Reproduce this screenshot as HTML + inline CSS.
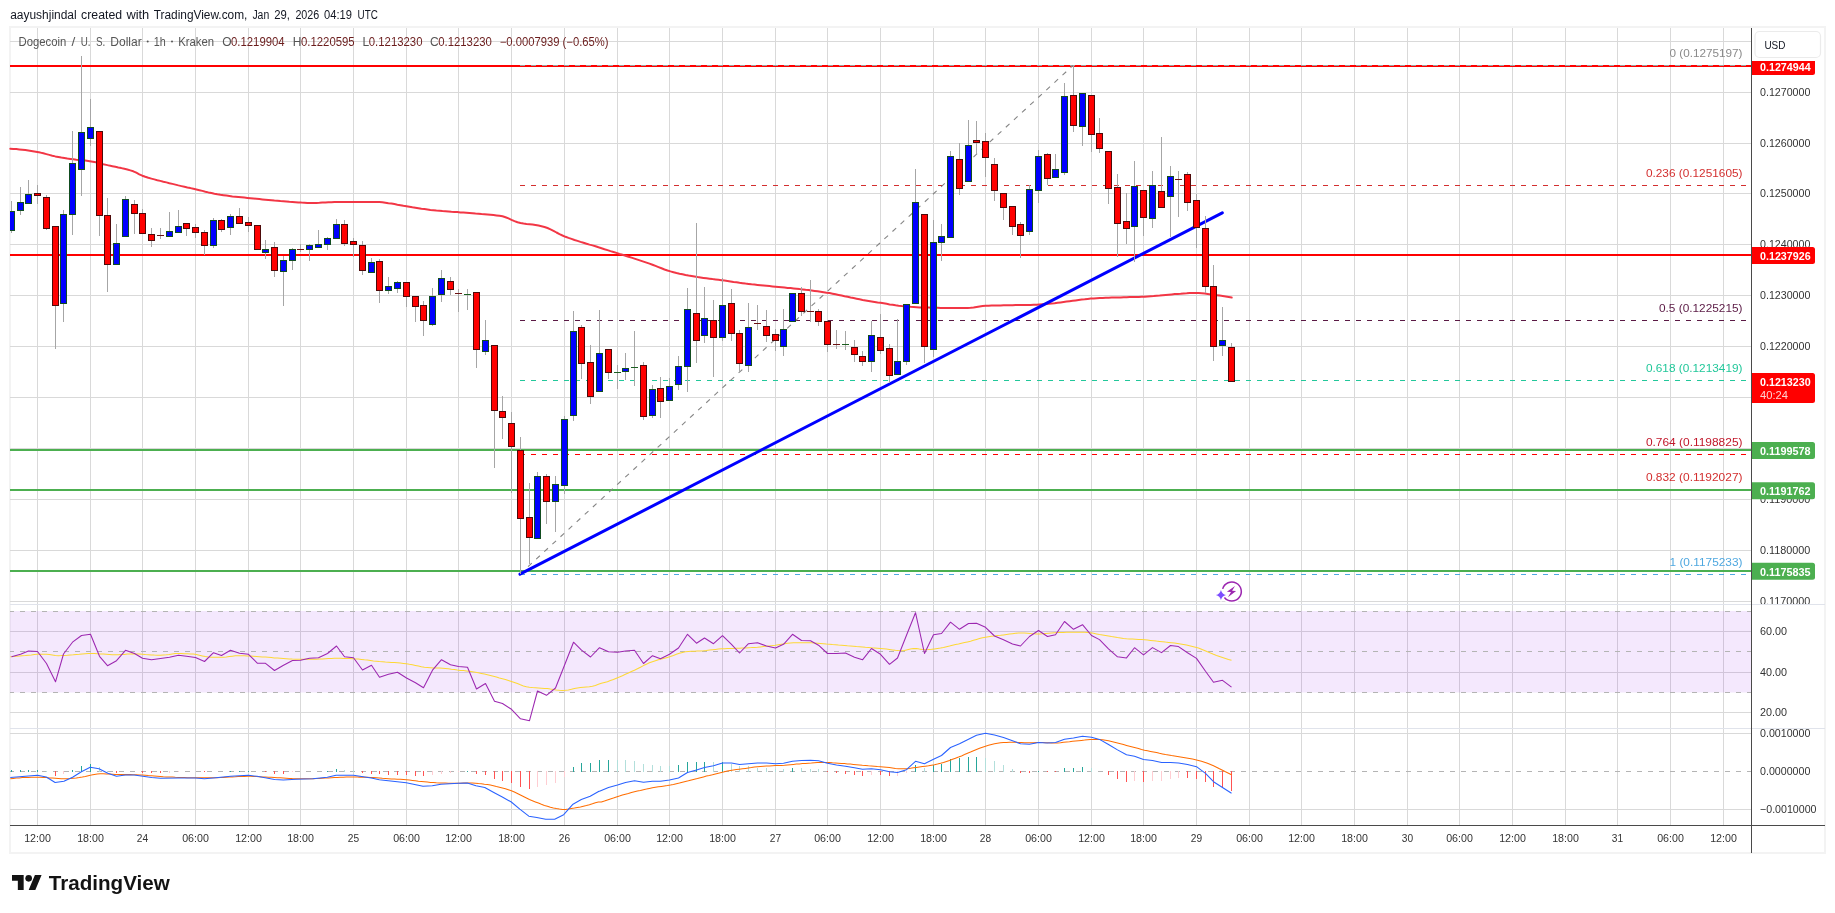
<!DOCTYPE html>
<html><head><meta charset="utf-8"><title>DOGEUSD chart</title>
<style>html,body{margin:0;padding:0;background:#fff;}body{width:1835px;height:913px;overflow:hidden;font-family:"Liberation Sans",sans-serif;}svg{display:block;will-change:transform;}</style>
</head><body>
<svg width="1835" height="913" viewBox="0 0 1835 913" font-family="'Liberation Sans', sans-serif">
<rect x="0" y="0" width="1835" height="913" fill="#fff"/>
<rect x="10" y="27" width="1815" height="826" fill="#fff" stroke="#f3f3f3" stroke-width="2" shape-rendering="crispEdges"/>
<g shape-rendering="crispEdges" stroke="#d9d9d9" stroke-width="1">
<line x1="37.5" y1="28" x2="37.5" y2="825"/>
<line x1="90.5" y1="28" x2="90.5" y2="825"/>
<line x1="142.5" y1="28" x2="142.5" y2="825"/>
<line x1="195.5" y1="28" x2="195.5" y2="825"/>
<line x1="248.5" y1="28" x2="248.5" y2="825"/>
<line x1="300.5" y1="28" x2="300.5" y2="825"/>
<line x1="353.5" y1="28" x2="353.5" y2="825"/>
<line x1="406.5" y1="28" x2="406.5" y2="825"/>
<line x1="458.5" y1="28" x2="458.5" y2="825"/>
<line x1="511.5" y1="28" x2="511.5" y2="825"/>
<line x1="564.5" y1="28" x2="564.5" y2="825"/>
<line x1="617.5" y1="28" x2="617.5" y2="825"/>
<line x1="669.5" y1="28" x2="669.5" y2="825"/>
<line x1="722.5" y1="28" x2="722.5" y2="825"/>
<line x1="775.5" y1="28" x2="775.5" y2="825"/>
<line x1="827.5" y1="28" x2="827.5" y2="825"/>
<line x1="880.5" y1="28" x2="880.5" y2="825"/>
<line x1="933.5" y1="28" x2="933.5" y2="825"/>
<line x1="985.5" y1="28" x2="985.5" y2="825"/>
<line x1="1038.5" y1="28" x2="1038.5" y2="825"/>
<line x1="1091.5" y1="28" x2="1091.5" y2="825"/>
<line x1="1143.5" y1="28" x2="1143.5" y2="825"/>
<line x1="1196.5" y1="28" x2="1196.5" y2="825"/>
<line x1="1249.5" y1="28" x2="1249.5" y2="825"/>
<line x1="1301.5" y1="28" x2="1301.5" y2="825"/>
<line x1="1354.5" y1="28" x2="1354.5" y2="825"/>
<line x1="1407.5" y1="28" x2="1407.5" y2="825"/>
<line x1="1459.5" y1="28" x2="1459.5" y2="825"/>
<line x1="1512.5" y1="28" x2="1512.5" y2="825"/>
<line x1="1565.5" y1="28" x2="1565.5" y2="825"/>
<line x1="1617.5" y1="28" x2="1617.5" y2="825"/>
<line x1="1670.5" y1="28" x2="1670.5" y2="825"/>
<line x1="1723.5" y1="28" x2="1723.5" y2="825"/>
<line x1="10" y1="41.5" x2="1751" y2="41.5"/>
<line x1="10" y1="92.5" x2="1751" y2="92.5"/>
<line x1="10" y1="143.5" x2="1751" y2="143.5"/>
<line x1="10" y1="193.5" x2="1751" y2="193.5"/>
<line x1="10" y1="244.5" x2="1751" y2="244.5"/>
<line x1="10" y1="295.5" x2="1751" y2="295.5"/>
<line x1="10" y1="346.5" x2="1751" y2="346.5"/>
<line x1="10" y1="397.5" x2="1751" y2="397.5"/>
<line x1="10" y1="448.5" x2="1751" y2="448.5"/>
<line x1="10" y1="499.5" x2="1751" y2="499.5"/>
<line x1="10" y1="550.5" x2="1751" y2="550.5"/>
<line x1="10" y1="601.5" x2="1751" y2="601.5"/>
<line x1="10" y1="631.5" x2="1751" y2="631.5"/>
<line x1="10" y1="672.5" x2="1751" y2="672.5"/>
<line x1="10" y1="712.5" x2="1751" y2="712.5"/>
<line x1="10" y1="733.5" x2="1751" y2="733.5"/>
<line x1="10" y1="809.5" x2="1751" y2="809.5"/>
</g>
<g shape-rendering="crispEdges" stroke="#e0e3eb" stroke-width="1">
<line x1="10" y1="604.5" x2="1825" y2="604.5"/>
<line x1="10" y1="728.5" x2="1825" y2="728.5"/>
</g>
<rect x="10" y="611" width="1741" height="81.5" fill="#961ef0" fill-opacity="0.1"/>
<g stroke="#b4b4b4" stroke-width="1" stroke-dasharray="5 6" stroke-dashoffset="1" shape-rendering="crispEdges">
<line x1="10" y1="611.5" x2="1751" y2="611.5"/>
<line x1="10" y1="651.5" x2="1751" y2="651.5"/>
<line x1="10" y1="692.5" x2="1751" y2="692.5"/>
<line x1="10" y1="771.5" x2="1751" y2="771.5"/>
</g>
<g shape-rendering="crispEdges">
<rect x="10" y="65" width="1741" height="2" fill="#ff0000"/>
<rect x="10" y="254" width="1741" height="2" fill="#ff0000"/>
<rect x="10" y="449" width="1741" height="2" fill="#4caf50"/>
<rect x="10" y="489" width="1741" height="2" fill="#4caf50"/>
<rect x="10" y="570" width="1741" height="2" fill="#4caf50"/>
</g>
<line x1="520" y1="65.5" x2="1746" y2="65.5" stroke="#9e9e9e" stroke-width="1" stroke-dasharray="5 6" shape-rendering="crispEdges"/>
<line x1="520" y1="185.5" x2="1746" y2="185.5" stroke="#d32f2f" stroke-width="1" stroke-dasharray="5 6" shape-rendering="crispEdges"/>
<line x1="520" y1="320.5" x2="1746" y2="320.5" stroke="#5b1a45" stroke-width="1" stroke-dasharray="5 6" shape-rendering="crispEdges"/>
<line x1="520" y1="380.5" x2="1746" y2="380.5" stroke="#22c79a" stroke-width="1" stroke-dasharray="5 6" shape-rendering="crispEdges"/>
<line x1="520" y1="454.5" x2="1746" y2="454.5" stroke="#ff0000" stroke-width="1" stroke-dasharray="5 6" shape-rendering="crispEdges"/>
<line x1="520" y1="574.5" x2="1746" y2="574.5" stroke="#4fa8e0" stroke-width="1" stroke-dasharray="5 6" shape-rendering="crispEdges"/>
<line x1="520" y1="574" x2="1073" y2="65.5" stroke="#858585" stroke-width="1.1" stroke-dasharray="5 6"/>
<path d="M10.3 148.7 L13.3 148.9 L16.3 149.1 L19.3 149.4 L22.3 149.7 L25.3 150.1 L28.3 150.5 L31.3 151.0 L34.3 151.5 L37.3 152.0 L40.3 152.6 L43.3 153.3 L46.3 154.1 L49.3 154.9 L52.3 155.7 L55.3 156.4 L58.3 156.9 L61.3 157.5 L64.3 158.0 L67.3 158.5 L70.3 158.9 L73.3 159.3 L76.3 159.7 L79.3 160.0 L82.3 160.3 L85.3 160.6 L88.3 160.9 L91.3 161.4 L94.3 162.0 L97.3 162.6 L100.3 163.4 L103.3 164.2 L106.3 164.9 L109.3 165.6 L112.3 166.2 L115.3 166.8 L118.3 167.5 L121.3 168.1 L124.3 168.8 L127.3 169.5 L130.3 170.4 L133.3 171.3 L136.3 172.7 L139.3 174.3 L142.3 175.7 L145.3 176.8 L148.3 177.8 L151.3 178.6 L154.3 179.4 L157.3 180.2 L160.3 180.9 L163.4 181.7 L166.4 182.4 L169.4 183.2 L172.4 183.9 L175.4 184.6 L178.4 185.4 L181.4 186.1 L184.4 186.8 L187.4 187.5 L190.4 188.1 L193.4 188.8 L196.4 189.5 L199.4 190.2 L202.4 190.9 L205.4 191.7 L208.4 192.4 L211.4 193.0 L214.4 193.7 L217.4 194.3 L220.4 194.8 L223.4 195.2 L226.4 195.6 L229.4 196.0 L232.4 196.4 L235.4 196.7 L238.4 197.0 L241.4 197.3 L244.4 197.6 L247.4 197.9 L250.4 198.2 L253.4 198.5 L256.4 198.8 L259.4 199.1 L262.4 199.4 L265.4 199.7 L268.4 200.0 L271.4 200.3 L274.4 200.6 L277.4 200.8 L280.4 201.1 L283.4 201.3 L286.4 201.5 L289.4 201.8 L292.4 202.0 L295.4 202.2 L298.4 202.4 L301.4 202.6 L304.4 202.7 L307.4 202.9 L310.4 203.0 L313.4 203.0 L316.4 202.9 L319.4 202.8 L322.4 202.6 L325.4 202.5 L328.4 202.3 L331.4 202.2 L334.4 202.0 L337.4 202.0 L340.4 202.0 L343.4 202.0 L346.4 202.0 L349.4 202.0 L352.4 202.0 L355.4 202.0 L358.4 202.0 L361.4 202.0 L364.4 202.0 L367.4 202.0 L370.4 202.0 L373.4 202.0 L376.4 202.0 L379.4 202.0 L382.4 202.2 L385.4 202.7 L388.4 203.2 L391.4 203.6 L394.4 204.1 L397.4 204.7 L400.4 205.2 L403.4 205.8 L406.4 206.3 L409.4 206.8 L412.4 207.3 L415.4 207.7 L418.4 208.2 L421.4 208.7 L424.4 209.1 L427.4 209.5 L430.4 209.9 L433.4 210.2 L436.4 210.5 L439.4 210.7 L442.4 211.0 L445.4 211.2 L448.4 211.4 L451.4 211.7 L454.4 211.9 L457.4 212.1 L460.4 212.4 L463.4 212.6 L466.4 212.8 L469.5 213.0 L472.5 213.2 L475.5 213.5 L478.5 213.7 L481.5 214.0 L484.5 214.2 L487.5 214.5 L490.5 214.8 L493.5 215.1 L496.5 215.4 L499.5 215.8 L502.5 216.3 L505.5 217.2 L508.5 218.4 L511.5 219.8 L514.5 221.1 L517.5 222.3 L520.5 223.0 L523.5 223.5 L526.5 223.9 L529.5 224.2 L532.5 224.5 L535.5 224.9 L538.5 225.5 L541.5 226.2 L544.5 227.0 L547.5 228.0 L550.5 229.3 L553.5 230.8 L556.5 232.5 L559.5 234.1 L562.5 235.5 L565.5 236.8 L568.5 237.9 L571.5 238.9 L574.5 240.0 L577.5 240.9 L580.5 241.9 L583.5 242.8 L586.5 243.7 L589.5 244.6 L592.5 245.4 L595.5 246.3 L598.5 247.3 L601.5 248.2 L604.5 249.2 L607.5 250.1 L610.5 251.1 L613.5 252.0 L616.5 252.9 L619.5 253.9 L622.5 254.8 L625.5 255.7 L628.5 256.7 L631.5 257.6 L634.5 258.6 L637.5 259.6 L640.5 260.6 L643.5 261.6 L646.5 262.6 L649.5 263.6 L652.5 264.7 L655.5 265.9 L658.5 267.1 L661.5 268.3 L664.5 269.5 L667.5 270.5 L670.5 271.4 L673.5 272.2 L676.5 273.0 L679.5 273.7 L682.5 274.3 L685.5 275.0 L688.5 275.6 L691.5 276.1 L694.5 276.6 L697.5 277.1 L700.5 277.5 L703.5 277.9 L706.5 278.3 L709.5 278.7 L712.5 279.1 L715.5 279.4 L718.5 279.8 L721.5 280.2 L724.5 280.6 L727.5 281.0 L730.5 281.4 L733.5 281.9 L736.5 282.3 L739.5 282.8 L742.5 283.2 L745.5 283.6 L748.5 283.9 L751.5 284.3 L754.5 284.6 L757.5 284.9 L760.5 285.2 L763.5 285.5 L766.5 285.8 L769.5 286.1 L772.5 286.4 L775.6 286.7 L778.6 287.0 L781.6 287.3 L784.6 287.6 L787.6 287.9 L790.6 288.1 L793.6 288.4 L796.6 288.7 L799.6 289.1 L802.6 289.4 L805.6 289.8 L808.6 290.1 L811.6 290.5 L814.6 290.9 L817.6 291.3 L820.6 291.7 L823.6 292.2 L826.6 292.7 L829.6 293.1 L832.6 293.7 L835.6 294.3 L838.6 294.9 L841.6 295.5 L844.6 296.2 L847.6 296.8 L850.6 297.5 L853.6 298.1 L856.6 298.7 L859.6 299.3 L862.6 299.9 L865.6 300.4 L868.6 300.9 L871.6 301.4 L874.6 301.9 L877.6 302.4 L880.6 302.8 L883.6 303.3 L886.6 303.8 L889.6 304.4 L892.6 304.8 L895.6 305.3 L898.6 305.7 L901.6 306.0 L904.6 306.2 L907.6 306.5 L910.6 306.8 L913.6 307.0 L916.6 307.2 L919.6 307.4 L922.6 307.5 L925.6 307.6 L928.6 307.6 L931.6 307.7 L934.6 307.8 L937.6 307.8 L940.6 307.9 L943.6 307.9 L946.6 308.0 L949.6 308.0 L952.6 308.0 L955.6 308.0 L958.6 308.0 L961.6 308.0 L964.6 308.0 L967.6 308.0 L970.6 307.8 L973.6 307.4 L976.6 306.9 L979.6 306.4 L982.6 306.0 L985.6 305.8 L988.6 305.7 L991.6 305.6 L994.6 305.5 L997.6 305.4 L1000.6 305.4 L1003.6 305.3 L1006.6 305.3 L1009.6 305.2 L1012.6 305.2 L1015.6 305.1 L1018.6 305.1 L1021.6 305.1 L1024.6 305.0 L1027.6 304.9 L1030.6 304.9 L1033.6 304.8 L1036.6 304.7 L1039.6 304.5 L1042.6 304.3 L1045.6 304.1 L1048.6 303.8 L1051.6 303.5 L1054.6 303.2 L1057.6 302.8 L1060.6 302.4 L1063.6 302.0 L1066.6 301.6 L1069.6 301.2 L1072.6 300.8 L1075.6 300.4 L1078.6 300.0 L1081.7 299.6 L1084.7 299.3 L1087.7 298.9 L1090.7 298.6 L1093.7 298.4 L1096.7 298.2 L1099.7 298.0 L1102.7 297.9 L1105.7 297.8 L1108.7 297.7 L1111.7 297.6 L1114.7 297.5 L1117.7 297.4 L1120.7 297.4 L1123.7 297.3 L1126.7 297.2 L1129.7 297.1 L1132.7 297.1 L1135.7 297.0 L1138.7 296.9 L1141.7 296.8 L1144.7 296.7 L1147.7 296.5 L1150.7 296.3 L1153.7 296.1 L1156.7 295.8 L1159.7 295.6 L1162.7 295.3 L1165.7 295.0 L1168.7 294.7 L1171.7 294.4 L1174.7 294.1 L1177.7 293.9 L1180.7 293.7 L1183.7 293.4 L1186.7 293.3 L1189.7 293.1 L1192.7 293.0 L1195.7 293.0 L1198.7 293.1 L1201.7 293.3 L1204.7 293.6 L1207.7 294.0 L1210.7 294.4 L1213.7 294.8 L1216.7 295.2 L1219.7 295.6 L1222.7 296.0 L1225.7 296.5 L1228.7 297.0 L1231.7 297.5" fill="none" stroke="#f23645" stroke-width="2" stroke-linejoin="round" stroke-linecap="round"/>
<line x1="520" y1="574.2" x2="1222.3" y2="212.8" stroke="#0000ff" stroke-width="3" stroke-linecap="round"/>
<clipPath id="cp"><rect x="10" y="28" width="1741" height="797"/></clipPath>
<g shape-rendering="crispEdges" clip-path="url(#cp)">
<rect x="11" y="201" width="1" height="32" fill="#a6a6a6"/>
<rect x="8" y="211" width="7" height="20" fill="#114d20"/>
<rect x="9" y="212" width="5" height="18" fill="#0000ff"/>
<rect x="20" y="187" width="1" height="28" fill="#a6a6a6"/>
<rect x="17" y="202" width="7" height="9" fill="#114d20"/>
<rect x="18" y="203" width="5" height="7" fill="#0000ff"/>
<rect x="28" y="180" width="1" height="23" fill="#a6a6a6"/>
<rect x="25" y="194" width="7" height="10" fill="#114d20"/>
<rect x="26" y="195" width="5" height="8" fill="#0000ff"/>
<rect x="37" y="185" width="1" height="19" fill="#a6a6a6"/>
<rect x="34" y="193" width="7" height="3" fill="#4d0a0a"/>
<rect x="35" y="194" width="5" height="1" fill="#ff0000"/>
<rect x="46" y="195" width="1" height="35" fill="#a6a6a6"/>
<rect x="43" y="197" width="7" height="32" fill="#4d0a0a"/>
<rect x="44" y="198" width="5" height="30" fill="#ff0000"/>
<rect x="55" y="226" width="1" height="123" fill="#a6a6a6"/>
<rect x="52" y="226" width="7" height="80" fill="#4d0a0a"/>
<rect x="53" y="227" width="5" height="78" fill="#ff0000"/>
<rect x="63" y="210" width="1" height="112" fill="#a6a6a6"/>
<rect x="60" y="214" width="7" height="90" fill="#114d20"/>
<rect x="61" y="215" width="5" height="88" fill="#0000ff"/>
<rect x="72" y="131" width="1" height="104" fill="#a6a6a6"/>
<rect x="69" y="163" width="7" height="52" fill="#114d20"/>
<rect x="70" y="164" width="5" height="50" fill="#0000ff"/>
<rect x="81" y="56" width="1" height="140" fill="#a6a6a6"/>
<rect x="78" y="132" width="7" height="38" fill="#114d20"/>
<rect x="79" y="133" width="5" height="36" fill="#0000ff"/>
<rect x="90" y="99" width="1" height="47" fill="#a6a6a6"/>
<rect x="87" y="127" width="7" height="12" fill="#114d20"/>
<rect x="88" y="128" width="5" height="10" fill="#0000ff"/>
<rect x="99" y="131" width="1" height="105" fill="#a6a6a6"/>
<rect x="96" y="131" width="7" height="85" fill="#4d0a0a"/>
<rect x="97" y="132" width="5" height="83" fill="#ff0000"/>
<rect x="107" y="198" width="1" height="94" fill="#a6a6a6"/>
<rect x="104" y="215" width="7" height="50" fill="#4d0a0a"/>
<rect x="105" y="216" width="5" height="48" fill="#ff0000"/>
<rect x="116" y="224" width="1" height="41" fill="#a6a6a6"/>
<rect x="113" y="243" width="7" height="22" fill="#114d20"/>
<rect x="114" y="244" width="5" height="20" fill="#0000ff"/>
<rect x="125" y="196" width="1" height="40" fill="#a6a6a6"/>
<rect x="122" y="199" width="7" height="38" fill="#114d20"/>
<rect x="123" y="200" width="5" height="36" fill="#0000ff"/>
<rect x="134" y="200" width="1" height="34" fill="#a6a6a6"/>
<rect x="131" y="204" width="7" height="10" fill="#4d0a0a"/>
<rect x="132" y="205" width="5" height="8" fill="#ff0000"/>
<rect x="142" y="209" width="1" height="25" fill="#a6a6a6"/>
<rect x="139" y="213" width="7" height="21" fill="#4d0a0a"/>
<rect x="140" y="214" width="5" height="19" fill="#ff0000"/>
<rect x="151" y="228" width="1" height="19" fill="#a6a6a6"/>
<rect x="148" y="234" width="7" height="7" fill="#4d0a0a"/>
<rect x="149" y="235" width="5" height="5" fill="#ff0000"/>
<rect x="160" y="228" width="1" height="11" fill="#a6a6a6"/>
<rect x="157" y="235" width="7" height="1" fill="#6d1212"/>
<rect x="169" y="212" width="1" height="25" fill="#a6a6a6"/>
<rect x="166" y="231" width="7" height="6" fill="#114d20"/>
<rect x="167" y="232" width="5" height="4" fill="#0000ff"/>
<rect x="178" y="210" width="1" height="23" fill="#a6a6a6"/>
<rect x="175" y="226" width="7" height="7" fill="#114d20"/>
<rect x="176" y="227" width="5" height="5" fill="#0000ff"/>
<rect x="186" y="223" width="1" height="13" fill="#a6a6a6"/>
<rect x="183" y="223" width="7" height="6" fill="#4d0a0a"/>
<rect x="184" y="224" width="5" height="4" fill="#ff0000"/>
<rect x="195" y="224" width="1" height="14" fill="#a6a6a6"/>
<rect x="192" y="227" width="7" height="6" fill="#4d0a0a"/>
<rect x="193" y="228" width="5" height="4" fill="#ff0000"/>
<rect x="204" y="230" width="1" height="25" fill="#a6a6a6"/>
<rect x="201" y="232" width="7" height="14" fill="#4d0a0a"/>
<rect x="202" y="233" width="5" height="12" fill="#ff0000"/>
<rect x="213" y="218" width="1" height="30" fill="#a6a6a6"/>
<rect x="210" y="220" width="7" height="26" fill="#114d20"/>
<rect x="211" y="221" width="5" height="24" fill="#0000ff"/>
<rect x="221" y="219" width="1" height="13" fill="#a6a6a6"/>
<rect x="218" y="220" width="7" height="10" fill="#4d0a0a"/>
<rect x="219" y="221" width="5" height="8" fill="#ff0000"/>
<rect x="230" y="214" width="1" height="21" fill="#a6a6a6"/>
<rect x="227" y="216" width="7" height="12" fill="#114d20"/>
<rect x="228" y="217" width="5" height="10" fill="#0000ff"/>
<rect x="239" y="208" width="1" height="16" fill="#a6a6a6"/>
<rect x="236" y="216" width="7" height="8" fill="#4d0a0a"/>
<rect x="237" y="217" width="5" height="6" fill="#ff0000"/>
<rect x="248" y="217" width="1" height="15" fill="#a6a6a6"/>
<rect x="245" y="222" width="7" height="4" fill="#4d0a0a"/>
<rect x="246" y="223" width="5" height="2" fill="#ff0000"/>
<rect x="257" y="225" width="1" height="25" fill="#a6a6a6"/>
<rect x="254" y="225" width="7" height="25" fill="#4d0a0a"/>
<rect x="255" y="226" width="5" height="23" fill="#ff0000"/>
<rect x="265" y="240" width="1" height="19" fill="#a6a6a6"/>
<rect x="262" y="249" width="7" height="4" fill="#114d20"/>
<rect x="263" y="250" width="5" height="2" fill="#0000ff"/>
<rect x="274" y="242" width="1" height="35" fill="#a6a6a6"/>
<rect x="271" y="247" width="7" height="24" fill="#4d0a0a"/>
<rect x="272" y="248" width="5" height="22" fill="#ff0000"/>
<rect x="283" y="256" width="1" height="50" fill="#a6a6a6"/>
<rect x="280" y="260" width="7" height="12" fill="#114d20"/>
<rect x="281" y="261" width="5" height="10" fill="#0000ff"/>
<rect x="292" y="248" width="1" height="22" fill="#a6a6a6"/>
<rect x="289" y="249" width="7" height="12" fill="#114d20"/>
<rect x="290" y="250" width="5" height="10" fill="#0000ff"/>
<rect x="300" y="244" width="1" height="8" fill="#a6a6a6"/>
<rect x="297" y="249" width="7" height="1" fill="#6d1212"/>
<rect x="309" y="244" width="1" height="17" fill="#a6a6a6"/>
<rect x="306" y="245" width="7" height="5" fill="#114d20"/>
<rect x="307" y="246" width="5" height="3" fill="#0000ff"/>
<rect x="318" y="230" width="1" height="18" fill="#a6a6a6"/>
<rect x="315" y="244" width="7" height="4" fill="#114d20"/>
<rect x="316" y="245" width="5" height="2" fill="#0000ff"/>
<rect x="327" y="237" width="1" height="13" fill="#a6a6a6"/>
<rect x="324" y="238" width="7" height="7" fill="#114d20"/>
<rect x="325" y="239" width="5" height="5" fill="#0000ff"/>
<rect x="336" y="219" width="1" height="20" fill="#a6a6a6"/>
<rect x="333" y="224" width="7" height="15" fill="#114d20"/>
<rect x="334" y="225" width="5" height="13" fill="#0000ff"/>
<rect x="344" y="220" width="1" height="26" fill="#a6a6a6"/>
<rect x="341" y="224" width="7" height="20" fill="#4d0a0a"/>
<rect x="342" y="225" width="5" height="18" fill="#ff0000"/>
<rect x="353" y="238" width="1" height="19" fill="#a6a6a6"/>
<rect x="350" y="241" width="7" height="4" fill="#4d0a0a"/>
<rect x="351" y="242" width="5" height="2" fill="#ff0000"/>
<rect x="362" y="241" width="1" height="34" fill="#a6a6a6"/>
<rect x="359" y="245" width="7" height="26" fill="#4d0a0a"/>
<rect x="360" y="246" width="5" height="24" fill="#ff0000"/>
<rect x="371" y="258" width="1" height="15" fill="#a6a6a6"/>
<rect x="368" y="262" width="7" height="11" fill="#114d20"/>
<rect x="369" y="263" width="5" height="9" fill="#0000ff"/>
<rect x="379" y="259" width="1" height="44" fill="#a6a6a6"/>
<rect x="376" y="261" width="7" height="30" fill="#4d0a0a"/>
<rect x="377" y="262" width="5" height="28" fill="#ff0000"/>
<rect x="388" y="277" width="1" height="17" fill="#a6a6a6"/>
<rect x="385" y="286" width="7" height="5" fill="#114d20"/>
<rect x="386" y="287" width="5" height="3" fill="#0000ff"/>
<rect x="397" y="281" width="1" height="12" fill="#a6a6a6"/>
<rect x="394" y="282" width="7" height="7" fill="#114d20"/>
<rect x="395" y="283" width="5" height="5" fill="#0000ff"/>
<rect x="406" y="282" width="1" height="25" fill="#a6a6a6"/>
<rect x="403" y="282" width="7" height="15" fill="#4d0a0a"/>
<rect x="404" y="283" width="5" height="13" fill="#ff0000"/>
<rect x="415" y="296" width="1" height="26" fill="#a6a6a6"/>
<rect x="412" y="296" width="7" height="11" fill="#4d0a0a"/>
<rect x="413" y="297" width="5" height="9" fill="#ff0000"/>
<rect x="423" y="301" width="1" height="35" fill="#a6a6a6"/>
<rect x="420" y="305" width="7" height="16" fill="#4d0a0a"/>
<rect x="421" y="306" width="5" height="14" fill="#ff0000"/>
<rect x="432" y="288" width="1" height="38" fill="#a6a6a6"/>
<rect x="429" y="296" width="7" height="29" fill="#114d20"/>
<rect x="430" y="297" width="5" height="27" fill="#0000ff"/>
<rect x="441" y="270" width="1" height="32" fill="#a6a6a6"/>
<rect x="438" y="278" width="7" height="17" fill="#114d20"/>
<rect x="439" y="279" width="5" height="15" fill="#0000ff"/>
<rect x="450" y="277" width="1" height="18" fill="#a6a6a6"/>
<rect x="447" y="281" width="7" height="9" fill="#4d0a0a"/>
<rect x="448" y="282" width="5" height="7" fill="#ff0000"/>
<rect x="458" y="289" width="1" height="23" fill="#a6a6a6"/>
<rect x="455" y="293" width="7" height="1" fill="#6d1212"/>
<rect x="467" y="289" width="1" height="21" fill="#a6a6a6"/>
<rect x="464" y="294" width="7" height="1" fill="#1b5e20"/>
<rect x="476" y="292" width="1" height="76" fill="#a6a6a6"/>
<rect x="473" y="292" width="7" height="58" fill="#4d0a0a"/>
<rect x="474" y="293" width="5" height="56" fill="#ff0000"/>
<rect x="485" y="320" width="1" height="35" fill="#a6a6a6"/>
<rect x="482" y="340" width="7" height="12" fill="#114d20"/>
<rect x="483" y="341" width="5" height="10" fill="#0000ff"/>
<rect x="494" y="345" width="1" height="123" fill="#a6a6a6"/>
<rect x="491" y="345" width="7" height="66" fill="#4d0a0a"/>
<rect x="492" y="346" width="5" height="64" fill="#ff0000"/>
<rect x="502" y="396" width="1" height="43" fill="#a6a6a6"/>
<rect x="499" y="411" width="7" height="7" fill="#4d0a0a"/>
<rect x="500" y="412" width="5" height="5" fill="#ff0000"/>
<rect x="511" y="412" width="1" height="81" fill="#a6a6a6"/>
<rect x="508" y="423" width="7" height="24" fill="#4d0a0a"/>
<rect x="509" y="424" width="5" height="22" fill="#ff0000"/>
<rect x="520" y="437" width="1" height="137" fill="#a6a6a6"/>
<rect x="517" y="450" width="7" height="69" fill="#4d0a0a"/>
<rect x="518" y="451" width="5" height="67" fill="#ff0000"/>
<rect x="529" y="483" width="1" height="81" fill="#a6a6a6"/>
<rect x="526" y="517" width="7" height="21" fill="#4d0a0a"/>
<rect x="527" y="518" width="5" height="19" fill="#ff0000"/>
<rect x="537" y="472" width="1" height="67" fill="#a6a6a6"/>
<rect x="534" y="476" width="7" height="63" fill="#114d20"/>
<rect x="535" y="477" width="5" height="61" fill="#0000ff"/>
<rect x="546" y="474" width="1" height="50" fill="#a6a6a6"/>
<rect x="543" y="476" width="7" height="26" fill="#4d0a0a"/>
<rect x="544" y="477" width="5" height="24" fill="#ff0000"/>
<rect x="555" y="476" width="1" height="56" fill="#a6a6a6"/>
<rect x="552" y="484" width="7" height="18" fill="#114d20"/>
<rect x="553" y="485" width="5" height="16" fill="#0000ff"/>
<rect x="564" y="416" width="1" height="78" fill="#a6a6a6"/>
<rect x="561" y="419" width="7" height="67" fill="#114d20"/>
<rect x="562" y="420" width="5" height="65" fill="#0000ff"/>
<rect x="573" y="311" width="1" height="110" fill="#a6a6a6"/>
<rect x="570" y="331" width="7" height="85" fill="#114d20"/>
<rect x="571" y="332" width="5" height="83" fill="#0000ff"/>
<rect x="581" y="325" width="1" height="54" fill="#a6a6a6"/>
<rect x="578" y="327" width="7" height="37" fill="#4d0a0a"/>
<rect x="579" y="328" width="5" height="35" fill="#ff0000"/>
<rect x="590" y="345" width="1" height="59" fill="#a6a6a6"/>
<rect x="587" y="362" width="7" height="35" fill="#4d0a0a"/>
<rect x="588" y="363" width="5" height="33" fill="#ff0000"/>
<rect x="599" y="310" width="1" height="82" fill="#a6a6a6"/>
<rect x="596" y="353" width="7" height="39" fill="#114d20"/>
<rect x="597" y="354" width="5" height="37" fill="#0000ff"/>
<rect x="608" y="349" width="1" height="30" fill="#a6a6a6"/>
<rect x="605" y="349" width="7" height="24" fill="#4d0a0a"/>
<rect x="606" y="350" width="5" height="22" fill="#ff0000"/>
<rect x="617" y="365" width="1" height="24" fill="#a6a6a6"/>
<rect x="614" y="372" width="7" height="1" fill="#1b5e20"/>
<rect x="625" y="353" width="1" height="27" fill="#a6a6a6"/>
<rect x="622" y="368" width="7" height="4" fill="#114d20"/>
<rect x="623" y="369" width="5" height="2" fill="#0000ff"/>
<rect x="634" y="331" width="1" height="55" fill="#a6a6a6"/>
<rect x="631" y="367" width="7" height="1" fill="#1b5e20"/>
<rect x="643" y="362" width="1" height="58" fill="#a6a6a6"/>
<rect x="640" y="365" width="7" height="52" fill="#4d0a0a"/>
<rect x="641" y="366" width="5" height="50" fill="#ff0000"/>
<rect x="652" y="385" width="1" height="33" fill="#a6a6a6"/>
<rect x="649" y="389" width="7" height="27" fill="#114d20"/>
<rect x="650" y="390" width="5" height="25" fill="#0000ff"/>
<rect x="660" y="377" width="1" height="41" fill="#a6a6a6"/>
<rect x="657" y="388" width="7" height="14" fill="#4d0a0a"/>
<rect x="658" y="389" width="5" height="12" fill="#ff0000"/>
<rect x="669" y="378" width="1" height="23" fill="#a6a6a6"/>
<rect x="666" y="386" width="7" height="15" fill="#114d20"/>
<rect x="667" y="387" width="5" height="13" fill="#0000ff"/>
<rect x="678" y="356" width="1" height="34" fill="#a6a6a6"/>
<rect x="675" y="366" width="7" height="19" fill="#114d20"/>
<rect x="676" y="367" width="5" height="17" fill="#0000ff"/>
<rect x="687" y="288" width="1" height="104" fill="#a6a6a6"/>
<rect x="684" y="309" width="7" height="58" fill="#114d20"/>
<rect x="685" y="310" width="5" height="56" fill="#0000ff"/>
<rect x="696" y="223" width="1" height="140" fill="#a6a6a6"/>
<rect x="693" y="313" width="7" height="28" fill="#4d0a0a"/>
<rect x="694" y="314" width="5" height="26" fill="#ff0000"/>
<rect x="704" y="287" width="1" height="56" fill="#a6a6a6"/>
<rect x="701" y="318" width="7" height="18" fill="#114d20"/>
<rect x="702" y="319" width="5" height="16" fill="#0000ff"/>
<rect x="713" y="300" width="1" height="77" fill="#a6a6a6"/>
<rect x="710" y="320" width="7" height="18" fill="#4d0a0a"/>
<rect x="711" y="321" width="5" height="16" fill="#ff0000"/>
<rect x="722" y="278" width="1" height="63" fill="#a6a6a6"/>
<rect x="719" y="305" width="7" height="33" fill="#114d20"/>
<rect x="720" y="306" width="5" height="31" fill="#0000ff"/>
<rect x="731" y="289" width="1" height="52" fill="#a6a6a6"/>
<rect x="728" y="303" width="7" height="31" fill="#4d0a0a"/>
<rect x="729" y="304" width="5" height="29" fill="#ff0000"/>
<rect x="739" y="330" width="1" height="43" fill="#a6a6a6"/>
<rect x="736" y="333" width="7" height="31" fill="#4d0a0a"/>
<rect x="737" y="334" width="5" height="29" fill="#ff0000"/>
<rect x="748" y="303" width="1" height="69" fill="#a6a6a6"/>
<rect x="745" y="327" width="7" height="39" fill="#114d20"/>
<rect x="746" y="328" width="5" height="37" fill="#0000ff"/>
<rect x="757" y="305" width="1" height="25" fill="#a6a6a6"/>
<rect x="754" y="323" width="7" height="1" fill="#6d1212"/>
<rect x="766" y="310" width="1" height="32" fill="#a6a6a6"/>
<rect x="763" y="326" width="7" height="10" fill="#4d0a0a"/>
<rect x="764" y="327" width="5" height="8" fill="#ff0000"/>
<rect x="775" y="329" width="1" height="22" fill="#a6a6a6"/>
<rect x="772" y="334" width="7" height="7" fill="#4d0a0a"/>
<rect x="773" y="335" width="5" height="5" fill="#ff0000"/>
<rect x="783" y="309" width="1" height="47" fill="#a6a6a6"/>
<rect x="780" y="329" width="7" height="18" fill="#114d20"/>
<rect x="781" y="330" width="5" height="16" fill="#0000ff"/>
<rect x="792" y="293" width="1" height="29" fill="#a6a6a6"/>
<rect x="789" y="293" width="7" height="29" fill="#114d20"/>
<rect x="790" y="294" width="5" height="27" fill="#0000ff"/>
<rect x="801" y="287" width="1" height="29" fill="#a6a6a6"/>
<rect x="798" y="293" width="7" height="19" fill="#4d0a0a"/>
<rect x="799" y="294" width="5" height="17" fill="#ff0000"/>
<rect x="810" y="280" width="1" height="42" fill="#a6a6a6"/>
<rect x="807" y="311" width="7" height="1" fill="#6d1212"/>
<rect x="818" y="309" width="1" height="17" fill="#a6a6a6"/>
<rect x="815" y="311" width="7" height="11" fill="#4d0a0a"/>
<rect x="816" y="312" width="5" height="9" fill="#ff0000"/>
<rect x="827" y="320" width="1" height="32" fill="#a6a6a6"/>
<rect x="824" y="321" width="7" height="24" fill="#4d0a0a"/>
<rect x="825" y="322" width="5" height="22" fill="#ff0000"/>
<rect x="836" y="330" width="1" height="19" fill="#a6a6a6"/>
<rect x="833" y="344" width="7" height="1" fill="#6d1212"/>
<rect x="845" y="331" width="1" height="19" fill="#a6a6a6"/>
<rect x="842" y="344" width="7" height="1" fill="#1b5e20"/>
<rect x="854" y="340" width="1" height="22" fill="#a6a6a6"/>
<rect x="851" y="347" width="7" height="8" fill="#4d0a0a"/>
<rect x="852" y="348" width="5" height="6" fill="#ff0000"/>
<rect x="862" y="351" width="1" height="15" fill="#a6a6a6"/>
<rect x="859" y="356" width="7" height="6" fill="#4d0a0a"/>
<rect x="860" y="357" width="5" height="4" fill="#ff0000"/>
<rect x="871" y="321" width="1" height="51" fill="#a6a6a6"/>
<rect x="868" y="335" width="7" height="27" fill="#114d20"/>
<rect x="869" y="336" width="5" height="25" fill="#0000ff"/>
<rect x="880" y="314" width="1" height="40" fill="#a6a6a6"/>
<rect x="877" y="337" width="7" height="14" fill="#4d0a0a"/>
<rect x="878" y="338" width="5" height="12" fill="#ff0000"/>
<rect x="889" y="344" width="1" height="39" fill="#a6a6a6"/>
<rect x="886" y="348" width="7" height="28" fill="#4d0a0a"/>
<rect x="887" y="349" width="5" height="26" fill="#ff0000"/>
<rect x="897" y="319" width="1" height="56" fill="#a6a6a6"/>
<rect x="894" y="361" width="7" height="14" fill="#114d20"/>
<rect x="895" y="362" width="5" height="12" fill="#0000ff"/>
<rect x="906" y="304" width="1" height="61" fill="#a6a6a6"/>
<rect x="903" y="304" width="7" height="58" fill="#114d20"/>
<rect x="904" y="305" width="5" height="56" fill="#0000ff"/>
<rect x="915" y="169" width="1" height="135" fill="#a6a6a6"/>
<rect x="912" y="202" width="7" height="102" fill="#114d20"/>
<rect x="913" y="203" width="5" height="100" fill="#0000ff"/>
<rect x="924" y="214" width="1" height="149" fill="#a6a6a6"/>
<rect x="921" y="214" width="7" height="133" fill="#4d0a0a"/>
<rect x="922" y="215" width="5" height="131" fill="#ff0000"/>
<rect x="933" y="220" width="1" height="137" fill="#a6a6a6"/>
<rect x="930" y="242" width="7" height="108" fill="#114d20"/>
<rect x="931" y="243" width="5" height="106" fill="#0000ff"/>
<rect x="941" y="224" width="1" height="37" fill="#a6a6a6"/>
<rect x="938" y="236" width="7" height="7" fill="#114d20"/>
<rect x="939" y="237" width="5" height="5" fill="#0000ff"/>
<rect x="950" y="151" width="1" height="87" fill="#a6a6a6"/>
<rect x="947" y="156" width="7" height="82" fill="#114d20"/>
<rect x="948" y="157" width="5" height="80" fill="#0000ff"/>
<rect x="959" y="143" width="1" height="52" fill="#a6a6a6"/>
<rect x="956" y="159" width="7" height="30" fill="#4d0a0a"/>
<rect x="957" y="160" width="5" height="28" fill="#ff0000"/>
<rect x="968" y="120" width="1" height="62" fill="#a6a6a6"/>
<rect x="965" y="145" width="7" height="37" fill="#114d20"/>
<rect x="966" y="146" width="5" height="35" fill="#0000ff"/>
<rect x="976" y="121" width="1" height="33" fill="#a6a6a6"/>
<rect x="973" y="140" width="7" height="3" fill="#4d0a0a"/>
<rect x="974" y="141" width="5" height="1" fill="#ff0000"/>
<rect x="985" y="133" width="1" height="44" fill="#a6a6a6"/>
<rect x="982" y="141" width="7" height="17" fill="#4d0a0a"/>
<rect x="983" y="142" width="5" height="15" fill="#ff0000"/>
<rect x="994" y="158" width="1" height="43" fill="#a6a6a6"/>
<rect x="991" y="164" width="7" height="27" fill="#4d0a0a"/>
<rect x="992" y="165" width="5" height="25" fill="#ff0000"/>
<rect x="1003" y="193" width="1" height="27" fill="#a6a6a6"/>
<rect x="1000" y="193" width="7" height="15" fill="#4d0a0a"/>
<rect x="1001" y="194" width="5" height="13" fill="#ff0000"/>
<rect x="1012" y="206" width="1" height="29" fill="#a6a6a6"/>
<rect x="1009" y="206" width="7" height="21" fill="#4d0a0a"/>
<rect x="1010" y="207" width="5" height="19" fill="#ff0000"/>
<rect x="1020" y="222" width="1" height="36" fill="#a6a6a6"/>
<rect x="1017" y="224" width="7" height="12" fill="#4d0a0a"/>
<rect x="1018" y="225" width="5" height="10" fill="#ff0000"/>
<rect x="1029" y="185" width="1" height="50" fill="#a6a6a6"/>
<rect x="1026" y="189" width="7" height="43" fill="#114d20"/>
<rect x="1027" y="190" width="5" height="41" fill="#0000ff"/>
<rect x="1038" y="150" width="1" height="53" fill="#a6a6a6"/>
<rect x="1035" y="156" width="7" height="35" fill="#114d20"/>
<rect x="1036" y="157" width="5" height="33" fill="#0000ff"/>
<rect x="1047" y="153" width="1" height="32" fill="#a6a6a6"/>
<rect x="1044" y="154" width="7" height="25" fill="#4d0a0a"/>
<rect x="1045" y="155" width="5" height="23" fill="#ff0000"/>
<rect x="1055" y="154" width="1" height="24" fill="#a6a6a6"/>
<rect x="1052" y="169" width="7" height="9" fill="#114d20"/>
<rect x="1053" y="170" width="5" height="7" fill="#0000ff"/>
<rect x="1064" y="83" width="1" height="92" fill="#a6a6a6"/>
<rect x="1061" y="96" width="7" height="77" fill="#114d20"/>
<rect x="1062" y="97" width="5" height="75" fill="#0000ff"/>
<rect x="1073" y="65" width="1" height="67" fill="#a6a6a6"/>
<rect x="1070" y="95" width="7" height="31" fill="#4d0a0a"/>
<rect x="1071" y="96" width="5" height="29" fill="#ff0000"/>
<rect x="1082" y="93" width="1" height="53" fill="#a6a6a6"/>
<rect x="1079" y="93" width="7" height="34" fill="#114d20"/>
<rect x="1080" y="94" width="5" height="32" fill="#0000ff"/>
<rect x="1091" y="95" width="1" height="57" fill="#a6a6a6"/>
<rect x="1088" y="95" width="7" height="40" fill="#4d0a0a"/>
<rect x="1089" y="96" width="5" height="38" fill="#ff0000"/>
<rect x="1099" y="118" width="1" height="35" fill="#a6a6a6"/>
<rect x="1096" y="133" width="7" height="16" fill="#4d0a0a"/>
<rect x="1097" y="134" width="5" height="14" fill="#ff0000"/>
<rect x="1108" y="151" width="1" height="53" fill="#a6a6a6"/>
<rect x="1105" y="151" width="7" height="38" fill="#4d0a0a"/>
<rect x="1106" y="152" width="5" height="36" fill="#ff0000"/>
<rect x="1117" y="174" width="1" height="83" fill="#a6a6a6"/>
<rect x="1114" y="187" width="7" height="37" fill="#4d0a0a"/>
<rect x="1115" y="188" width="5" height="35" fill="#ff0000"/>
<rect x="1126" y="193" width="1" height="51" fill="#a6a6a6"/>
<rect x="1123" y="221" width="7" height="8" fill="#4d0a0a"/>
<rect x="1124" y="222" width="5" height="6" fill="#ff0000"/>
<rect x="1134" y="161" width="1" height="101" fill="#a6a6a6"/>
<rect x="1131" y="186" width="7" height="41" fill="#114d20"/>
<rect x="1132" y="187" width="5" height="39" fill="#0000ff"/>
<rect x="1143" y="190" width="1" height="46" fill="#a6a6a6"/>
<rect x="1140" y="190" width="7" height="28" fill="#4d0a0a"/>
<rect x="1141" y="191" width="5" height="26" fill="#ff0000"/>
<rect x="1152" y="171" width="1" height="57" fill="#a6a6a6"/>
<rect x="1149" y="185" width="7" height="34" fill="#114d20"/>
<rect x="1150" y="186" width="5" height="32" fill="#0000ff"/>
<rect x="1161" y="137" width="1" height="71" fill="#a6a6a6"/>
<rect x="1158" y="191" width="7" height="17" fill="#4d0a0a"/>
<rect x="1159" y="192" width="5" height="15" fill="#ff0000"/>
<rect x="1170" y="166" width="1" height="71" fill="#a6a6a6"/>
<rect x="1167" y="176" width="7" height="21" fill="#114d20"/>
<rect x="1168" y="177" width="5" height="19" fill="#0000ff"/>
<rect x="1178" y="171" width="1" height="46" fill="#a6a6a6"/>
<rect x="1175" y="179" width="7" height="1" fill="#6d1212"/>
<rect x="1187" y="172" width="1" height="39" fill="#a6a6a6"/>
<rect x="1184" y="174" width="7" height="29" fill="#4d0a0a"/>
<rect x="1185" y="175" width="5" height="27" fill="#ff0000"/>
<rect x="1196" y="194" width="1" height="54" fill="#a6a6a6"/>
<rect x="1193" y="200" width="7" height="28" fill="#4d0a0a"/>
<rect x="1194" y="201" width="5" height="26" fill="#ff0000"/>
<rect x="1205" y="216" width="1" height="77" fill="#a6a6a6"/>
<rect x="1202" y="228" width="7" height="59" fill="#4d0a0a"/>
<rect x="1203" y="229" width="5" height="57" fill="#ff0000"/>
<rect x="1213" y="265" width="1" height="96" fill="#a6a6a6"/>
<rect x="1210" y="286" width="7" height="61" fill="#4d0a0a"/>
<rect x="1211" y="287" width="5" height="59" fill="#ff0000"/>
<rect x="1222" y="307" width="1" height="49" fill="#a6a6a6"/>
<rect x="1219" y="340" width="7" height="6" fill="#114d20"/>
<rect x="1220" y="341" width="5" height="4" fill="#0000ff"/>
<rect x="1231" y="343" width="1" height="39" fill="#a6a6a6"/>
<rect x="1228" y="347" width="7" height="35" fill="#4d0a0a"/>
<rect x="1229" y="348" width="5" height="33" fill="#ff0000"/>
</g>
<path d="M10.3 656.7 L13.3 656.5 L16.3 656.2 L19.3 656.0 L22.3 655.7 L25.3 655.5 L28.3 655.2 L31.3 654.9 L34.3 654.5 L37.3 654.3 L40.3 654.3 L43.3 654.3 L46.3 654.3 L49.3 654.5 L52.3 655.0 L55.3 655.5 L58.3 655.7 L61.3 655.6 L64.3 655.4 L67.3 655.2 L70.3 654.9 L73.3 654.7 L76.3 654.4 L79.3 654.2 L82.3 653.9 L85.3 653.7 L88.3 653.5 L91.3 653.5 L94.3 653.6 L97.3 653.7 L100.3 653.9 L103.3 654.1 L106.3 654.3 L109.3 654.5 L112.3 654.7 L115.3 654.8 L118.3 654.8 L121.3 654.6 L124.3 654.4 L127.3 654.1 L130.3 653.9 L133.3 653.8 L136.3 653.9 L139.3 654.0 L142.3 654.2 L145.3 654.5 L148.3 654.7 L151.3 654.9 L154.3 655.1 L157.3 655.2 L160.3 655.2 L163.3 655.0 L166.3 654.8 L169.3 654.5 L172.3 654.0 L175.3 653.6 L178.3 653.5 L181.3 653.6 L184.3 653.7 L187.3 653.8 L190.3 653.9 L193.3 654.1 L196.3 654.6 L199.3 655.2 L202.3 655.9 L205.3 656.6 L208.3 657.1 L211.3 657.3 L214.3 657.3 L217.3 657.3 L220.3 657.3 L223.3 657.3 L226.3 657.0 L229.3 656.6 L232.3 656.2 L235.3 655.8 L238.3 655.7 L241.3 655.7 L244.3 655.8 L247.3 656.0 L250.3 656.1 L253.3 656.3 L256.3 656.5 L259.3 656.7 L262.3 656.9 L265.3 657.1 L268.3 657.3 L271.3 657.6 L274.3 657.9 L277.3 658.1 L280.3 658.3 L283.3 658.5 L286.3 658.7 L289.3 658.9 L292.3 659.1 L295.3 659.2 L298.3 659.3 L301.3 659.3 L304.3 659.3 L307.3 659.3 L310.3 659.3 L313.3 659.3 L316.4 659.2 L319.4 659.1 L322.4 659.0 L325.4 658.8 L328.4 658.6 L331.4 658.5 L334.4 658.3 L337.4 658.3 L340.4 658.3 L343.4 658.4 L346.4 658.5 L349.4 658.6 L352.4 658.7 L355.4 658.9 L358.4 659.1 L361.4 659.4 L364.4 659.8 L367.4 660.1 L370.4 660.5 L373.4 660.9 L376.4 661.2 L379.4 661.5 L382.4 661.7 L385.4 662.0 L388.4 662.2 L391.4 662.4 L394.4 662.6 L397.4 662.8 L400.4 663.1 L403.4 663.4 L406.4 663.8 L409.4 664.3 L412.4 664.7 L415.4 665.4 L418.4 666.1 L421.4 666.8 L424.4 667.3 L427.4 667.5 L430.4 667.7 L433.4 667.9 L436.4 668.0 L439.4 668.1 L442.4 668.3 L445.4 668.5 L448.4 668.7 L451.4 669.2 L454.4 669.6 L457.4 670.1 L460.4 670.4 L463.4 670.6 L466.4 670.9 L469.4 671.2 L472.4 671.7 L475.4 672.2 L478.4 672.8 L481.4 673.4 L484.4 674.0 L487.4 674.7 L490.4 675.4 L493.4 676.2 L496.4 677.0 L499.4 677.9 L502.4 678.7 L505.4 679.6 L508.4 680.5 L511.4 681.4 L514.4 682.5 L517.4 683.6 L520.4 684.8 L523.4 685.9 L526.4 686.8 L529.4 687.3 L532.4 687.6 L535.4 687.8 L538.4 688.0 L541.4 688.2 L544.4 688.4 L547.4 688.6 L550.4 689.1 L553.4 689.5 L556.4 690.0 L559.4 690.3 L562.4 690.5 L565.4 690.3 L568.4 689.9 L571.4 689.3 L574.4 688.6 L577.4 688.0 L580.4 687.6 L583.4 687.3 L586.4 687.0 L589.4 686.7 L592.4 686.2 L595.4 685.4 L598.4 684.3 L601.4 683.3 L604.4 682.5 L607.4 681.7 L610.4 680.6 L613.4 679.5 L616.4 678.2 L619.4 677.0 L622.4 675.7 L625.4 674.3 L628.4 673.0 L631.4 671.6 L634.4 670.2 L637.4 668.7 L640.4 667.2 L643.4 665.6 L646.4 664.2 L649.4 662.8 L652.4 661.7 L655.4 660.7 L658.4 659.8 L661.4 659.1 L664.4 658.3 L667.4 657.4 L670.4 656.5 L673.4 655.4 L676.4 654.2 L679.4 653.3 L682.4 652.4 L685.4 651.7 L688.4 651.4 L691.4 651.3 L694.4 651.2 L697.4 651.1 L700.4 651.0 L703.4 650.8 L706.4 650.5 L709.4 650.1 L712.4 649.7 L715.4 649.4 L718.4 649.1 L721.4 648.8 L724.4 648.7 L727.4 648.6 L730.4 648.5 L733.4 648.4 L736.4 648.3 L739.4 648.2 L742.4 648.0 L745.4 647.9 L748.4 647.7 L751.4 647.6 L754.4 647.4 L757.4 647.2 L760.4 646.9 L763.4 646.6 L766.4 646.3 L769.4 645.9 L772.4 645.6 L775.4 645.2 L778.4 644.7 L781.4 644.2 L784.4 643.7 L787.4 643.2 L790.4 642.9 L793.4 642.7 L796.4 642.7 L799.4 642.7 L802.4 642.7 L805.4 642.7 L808.4 642.7 L811.4 642.8 L814.4 643.0 L817.4 643.2 L820.4 643.5 L823.4 643.8 L826.4 644.1 L829.4 644.3 L832.4 644.6 L835.4 644.8 L838.4 645.1 L841.4 645.3 L844.4 645.5 L847.4 645.8 L850.4 646.0 L853.4 646.2 L856.4 646.5 L859.4 646.7 L862.4 646.9 L865.4 647.2 L868.4 647.4 L871.4 647.7 L874.4 647.9 L877.4 648.2 L880.4 648.5 L883.4 648.8 L886.4 649.1 L889.4 649.5 L892.4 649.9 L895.4 650.3 L898.4 650.6 L901.4 650.7 L904.4 650.4 L907.4 649.7 L910.4 649.0 L913.4 648.6 L916.4 648.6 L919.4 649.1 L922.4 649.5 L925.4 649.7 L928.5 649.6 L931.5 649.3 L934.5 648.9 L937.5 648.5 L940.5 648.1 L943.5 647.5 L946.5 646.8 L949.5 646.1 L952.5 645.3 L955.5 644.6 L958.5 644.0 L961.5 643.3 L964.5 642.6 L967.5 641.9 L970.5 641.2 L973.5 640.3 L976.5 639.4 L979.5 638.5 L982.5 637.7 L985.5 637.2 L988.5 636.7 L991.5 636.3 L994.5 636.0 L997.5 635.6 L1000.5 635.3 L1003.5 634.9 L1006.5 634.5 L1009.5 634.1 L1012.5 633.7 L1015.5 633.3 L1018.5 633.1 L1021.5 633.0 L1024.5 633.1 L1027.5 633.3 L1030.5 633.6 L1033.5 633.8 L1036.5 634.0 L1039.5 634.0 L1042.5 633.8 L1045.5 633.5 L1048.5 633.2 L1051.5 632.9 L1054.5 632.7 L1057.5 632.6 L1060.5 632.5 L1063.5 632.4 L1066.5 632.3 L1069.5 632.3 L1072.5 632.3 L1075.5 632.3 L1078.5 632.3 L1081.5 632.3 L1084.5 632.3 L1087.5 632.4 L1090.5 632.8 L1093.5 633.3 L1096.5 633.9 L1099.5 634.5 L1102.5 635.0 L1105.5 635.5 L1108.5 636.0 L1111.5 636.6 L1114.5 637.1 L1117.5 637.6 L1120.5 638.0 L1123.5 638.4 L1126.5 638.7 L1129.5 638.9 L1132.5 639.0 L1135.5 639.2 L1138.5 639.4 L1141.5 639.6 L1144.5 639.8 L1147.5 640.1 L1150.5 640.4 L1153.5 640.7 L1156.5 641.1 L1159.5 641.4 L1162.5 641.7 L1165.5 642.1 L1168.5 642.4 L1171.5 642.7 L1174.5 643.0 L1177.5 643.4 L1180.5 643.9 L1183.5 644.4 L1186.5 645.0 L1189.5 645.7 L1192.5 646.4 L1195.5 647.2 L1198.5 648.1 L1201.5 649.2 L1204.5 650.4 L1207.5 651.8 L1210.5 653.1 L1213.5 654.3 L1216.5 655.4 L1219.5 656.4 L1222.5 657.4 L1225.5 658.4 L1228.5 659.4 L1231.5 660.3" fill="none" stroke="#fdd835" stroke-width="1.05" stroke-linejoin="round"/>
<path d="M11.5 656.8 L20.5 654.3 L28.5 651.0 L37.5 651.5 L46.5 663.5 L55.5 681.8 L63.5 654.0 L72.5 642.2 L81.5 635.5 L90.5 634.3 L99.5 656.3 L107.5 665.7 L116.5 660.7 L125.5 650.3 L134.5 653.5 L142.5 658.3 L151.5 659.7 L160.5 658.5 L169.5 657.2 L178.5 655.3 L186.5 656.3 L195.5 657.5 L204.5 661.5 L213.5 652.7 L221.5 655.5 L230.5 650.3 L239.5 653.3 L248.5 654.3 L257.5 663.3 L265.5 663.3 L274.5 670.5 L283.5 665.2 L292.5 660.5 L300.5 660.2 L309.5 658.2 L318.5 657.7 L327.5 653.5 L336.5 646.0 L344.5 656.8 L353.5 657.7 L362.5 670.0 L371.5 665.2 L379.5 677.2 L388.5 674.3 L397.5 672.2 L406.5 678.0 L415.5 682.7 L423.5 687.7 L432.5 670.2 L441.5 659.7 L450.5 664.8 L458.5 666.5 L467.5 667.2 L476.5 689.0 L485.5 683.5 L494.5 701.3 L502.5 703.5 L511.5 709.3 L520.5 718.8 L529.5 720.7 L537.5 691.0 L546.5 695.3 L555.5 688.0 L564.5 665.2 L573.5 642.2 L581.5 650.2 L590.5 657.0 L599.5 647.7 L608.5 651.8 L617.5 652.2 L625.5 651.0 L634.5 650.3 L643.5 663.5 L652.5 655.7 L660.5 658.8 L669.5 654.3 L678.5 648.0 L687.5 634.3 L696.5 643.2 L704.5 638.0 L713.5 643.7 L722.5 635.7 L731.5 644.3 L739.5 653.0 L748.5 643.7 L757.5 642.7 L766.5 646.0 L775.5 648.0 L783.5 644.3 L792.5 634.3 L801.5 640.5 L810.5 640.7 L818.5 645.2 L827.5 653.5 L836.5 653.5 L845.5 653.0 L854.5 657.2 L862.5 659.8 L871.5 648.5 L880.5 654.3 L889.5 664.3 L897.5 658.0 L906.5 635.2 L915.5 612.7 L924.5 653.5 L933.5 634.7 L941.5 633.5 L950.5 622.2 L959.5 629.3 L968.5 623.5 L976.5 623.2 L985.5 627.3 L994.5 636.0 L1003.5 639.8 L1012.5 644.0 L1020.5 646.0 L1029.5 636.5 L1038.5 630.5 L1047.5 636.5 L1055.5 634.7 L1064.5 621.5 L1073.5 629.3 L1082.5 624.7 L1091.5 635.5 L1099.5 639.6 L1108.5 648.8 L1117.5 656.8 L1126.5 657.9 L1134.5 647.7 L1143.5 654.9 L1152.5 647.6 L1161.5 652.6 L1170.5 645.5 L1178.5 646.6 L1187.5 652.8 L1196.5 658.4 L1205.5 671.3 L1213.5 682.2 L1222.5 680.3 L1231.5 687.2" fill="none" stroke="#9c27b0" stroke-width="1.05" stroke-linejoin="round"/>
<g shape-rendering="crispEdges">
<rect x="11" y="770.2" width="1" height="1.8" fill="#26a69a"/>
<rect x="20" y="770.0" width="1" height="2.0" fill="#26a69a"/>
<rect x="28" y="769.8" width="1" height="2.2" fill="#26a69a"/>
<rect x="37" y="769.6" width="1" height="2.4" fill="#26a69a"/>
<rect x="46" y="770.9" width="1" height="1.1" fill="#b2dfdb"/>
<rect x="55" y="771" width="1" height="4.6" fill="#ff5252"/>
<rect x="63" y="771" width="1" height="3.0" fill="#ffcdd2"/>
<rect x="72" y="770.4" width="1" height="1.6" fill="#26a69a"/>
<rect x="81" y="766.0" width="1" height="6.0" fill="#26a69a"/>
<rect x="90" y="763.5" width="1" height="8.5" fill="#26a69a"/>
<rect x="99" y="766.8" width="1" height="5.2" fill="#b2dfdb"/>
<rect x="107" y="770.6" width="1" height="1.4" fill="#b2dfdb"/>
<rect x="116" y="771" width="1" height="2.2" fill="#ff5252"/>
<rect x="142" y="771" width="1" height="1.5" fill="#ff5252"/>
<rect x="151" y="771" width="1" height="2.2" fill="#ff5252"/>
<rect x="160" y="771" width="1" height="2.4" fill="#ff5252"/>
<rect x="169" y="771" width="1" height="1.6" fill="#ffcdd2"/>
<rect x="178" y="771" width="1" height="1.2" fill="#ffcdd2"/>
<rect x="204" y="771" width="1" height="1.4" fill="#ff5252"/>
<rect x="230" y="770.7" width="1" height="1.3" fill="#26a69a"/>
<rect x="239" y="770.6" width="1" height="1.4" fill="#26a69a"/>
<rect x="248" y="770.5" width="1" height="1.5" fill="#26a69a"/>
<rect x="265" y="771" width="1" height="1.3" fill="#ff5252"/>
<rect x="274" y="771" width="1" height="2.5" fill="#ff5252"/>
<rect x="283" y="771" width="1" height="2.5" fill="#ff5252"/>
<rect x="292" y="771" width="1" height="1.4" fill="#ffcdd2"/>
<rect x="327" y="770.7" width="1" height="1.3" fill="#26a69a"/>
<rect x="336" y="769.3" width="1" height="2.7" fill="#26a69a"/>
<rect x="344" y="769.5" width="1" height="2.5" fill="#b2dfdb"/>
<rect x="353" y="769.8" width="1" height="2.2" fill="#b2dfdb"/>
<rect x="362" y="771" width="1" height="2.0" fill="#ff5252"/>
<rect x="371" y="771" width="1" height="2.5" fill="#ff5252"/>
<rect x="379" y="771" width="1" height="2.8" fill="#ff5252"/>
<rect x="388" y="771" width="1" height="3.8" fill="#ff5252"/>
<rect x="397" y="771" width="1" height="3.8" fill="#ff5252"/>
<rect x="406" y="771" width="1" height="4.1" fill="#ff5252"/>
<rect x="415" y="771" width="1" height="5.1" fill="#ff5252"/>
<rect x="423" y="771" width="1" height="5.1" fill="#ff5252"/>
<rect x="432" y="771" width="1" height="4.0" fill="#ffcdd2"/>
<rect x="441" y="771" width="1" height="2.9" fill="#ffcdd2"/>
<rect x="450" y="771" width="1" height="1.8" fill="#ffcdd2"/>
<rect x="458" y="771" width="1" height="1.1" fill="#ffcdd2"/>
<rect x="467" y="770.9" width="1" height="1.1" fill="#26a69a"/>
<rect x="476" y="771" width="1" height="2.9" fill="#ff5252"/>
<rect x="485" y="771" width="1" height="4.0" fill="#ff5252"/>
<rect x="494" y="771" width="1" height="8.0" fill="#ff5252"/>
<rect x="502" y="771" width="1" height="10.0" fill="#ff5252"/>
<rect x="511" y="771" width="1" height="12.2" fill="#ff5252"/>
<rect x="520" y="771" width="1" height="16.0" fill="#ff5252"/>
<rect x="529" y="771" width="1" height="18.2" fill="#ff5252"/>
<rect x="537" y="771" width="1" height="16.0" fill="#ffcdd2"/>
<rect x="546" y="771" width="1" height="14.1" fill="#ffcdd2"/>
<rect x="555" y="771" width="1" height="12.2" fill="#ffcdd2"/>
<rect x="564" y="771" width="1" height="6.2" fill="#ffcdd2"/>
<rect x="573" y="767.1" width="1" height="4.9" fill="#26a69a"/>
<rect x="581" y="763.1" width="1" height="8.9" fill="#26a69a"/>
<rect x="590" y="763.1" width="1" height="8.9" fill="#26a69a"/>
<rect x="599" y="760.2" width="1" height="11.8" fill="#26a69a"/>
<rect x="608" y="760.1" width="1" height="11.9" fill="#26a69a"/>
<rect x="617" y="760.1" width="1" height="11.9" fill="#b2dfdb"/>
<rect x="625" y="760.1" width="1" height="11.9" fill="#b2dfdb"/>
<rect x="634" y="761.1" width="1" height="10.9" fill="#b2dfdb"/>
<rect x="643" y="764.1" width="1" height="7.9" fill="#b2dfdb"/>
<rect x="652" y="765.2" width="1" height="6.8" fill="#b2dfdb"/>
<rect x="660" y="766.1" width="1" height="5.9" fill="#b2dfdb"/>
<rect x="669" y="766.1" width="1" height="5.9" fill="#b2dfdb"/>
<rect x="678" y="765.0" width="1" height="7.0" fill="#26a69a"/>
<rect x="687" y="762.0" width="1" height="10.0" fill="#26a69a"/>
<rect x="696" y="762.0" width="1" height="10.0" fill="#26a69a"/>
<rect x="704" y="762.0" width="1" height="10.0" fill="#26a69a"/>
<rect x="713" y="762.0" width="1" height="10.0" fill="#b2dfdb"/>
<rect x="722" y="762.0" width="1" height="10.0" fill="#26a69a"/>
<rect x="731" y="763.9" width="1" height="8.1" fill="#b2dfdb"/>
<rect x="739" y="766.1" width="1" height="5.9" fill="#b2dfdb"/>
<rect x="748" y="766.1" width="1" height="5.9" fill="#b2dfdb"/>
<rect x="757" y="767.7" width="1" height="4.3" fill="#b2dfdb"/>
<rect x="766" y="768.2" width="1" height="3.8" fill="#b2dfdb"/>
<rect x="775" y="768.8" width="1" height="3.2" fill="#b2dfdb"/>
<rect x="783" y="769.3" width="1" height="2.7" fill="#b2dfdb"/>
<rect x="792" y="768.2" width="1" height="3.8" fill="#26a69a"/>
<rect x="801" y="768.2" width="1" height="3.8" fill="#b2dfdb"/>
<rect x="810" y="768.5" width="1" height="3.5" fill="#b2dfdb"/>
<rect x="818" y="769.3" width="1" height="2.7" fill="#b2dfdb"/>
<rect x="827" y="771" width="1" height="1.1" fill="#ff5252"/>
<rect x="836" y="771" width="1" height="2.2" fill="#ff5252"/>
<rect x="845" y="771" width="1" height="2.8" fill="#ff5252"/>
<rect x="854" y="771" width="1" height="3.8" fill="#ff5252"/>
<rect x="862" y="771" width="1" height="5.0" fill="#ff5252"/>
<rect x="871" y="771" width="1" height="3.8" fill="#ffcdd2"/>
<rect x="880" y="771" width="1" height="3.8" fill="#ff5252"/>
<rect x="889" y="771" width="1" height="4.6" fill="#ff5252"/>
<rect x="897" y="771" width="1" height="4.6" fill="#ffcdd2"/>
<rect x="906" y="771" width="1" height="1.5" fill="#ffcdd2"/>
<rect x="915" y="765.2" width="1" height="6.8" fill="#26a69a"/>
<rect x="924" y="768.0" width="1" height="4.0" fill="#b2dfdb"/>
<rect x="933" y="765.2" width="1" height="6.8" fill="#26a69a"/>
<rect x="941" y="764.1" width="1" height="7.9" fill="#26a69a"/>
<rect x="950" y="759.3" width="1" height="12.7" fill="#26a69a"/>
<rect x="959" y="758.2" width="1" height="13.8" fill="#26a69a"/>
<rect x="968" y="757.1" width="1" height="14.9" fill="#26a69a"/>
<rect x="976" y="757.1" width="1" height="14.9" fill="#26a69a"/>
<rect x="985" y="758.2" width="1" height="13.8" fill="#b2dfdb"/>
<rect x="994" y="761.1" width="1" height="10.9" fill="#b2dfdb"/>
<rect x="1003" y="765.2" width="1" height="6.8" fill="#b2dfdb"/>
<rect x="1012" y="769.1" width="1" height="2.9" fill="#b2dfdb"/>
<rect x="1020" y="771" width="1" height="1.8" fill="#ff5252"/>
<rect x="1029" y="771" width="1" height="1.8" fill="#ff5252"/>
<rect x="1038" y="770.9" width="1" height="1.1" fill="#26a69a"/>
<rect x="1047" y="771" width="1" height="1.1" fill="#ff5252"/>
<rect x="1055" y="771" width="1" height="1.1" fill="#ff5252"/>
<rect x="1064" y="768.2" width="1" height="3.8" fill="#26a69a"/>
<rect x="1073" y="768.2" width="1" height="3.8" fill="#26a69a"/>
<rect x="1082" y="767.2" width="1" height="4.8" fill="#26a69a"/>
<rect x="1091" y="768.2" width="1" height="3.8" fill="#b2dfdb"/>
<rect x="1108" y="771" width="1" height="4.3" fill="#ff5252"/>
<rect x="1117" y="771" width="1" height="8.2" fill="#ff5252"/>
<rect x="1126" y="771" width="1" height="11.2" fill="#ff5252"/>
<rect x="1134" y="771" width="1" height="10.1" fill="#ffcdd2"/>
<rect x="1143" y="771" width="1" height="11.2" fill="#ff5252"/>
<rect x="1152" y="771" width="1" height="10.1" fill="#ffcdd2"/>
<rect x="1161" y="771" width="1" height="10.1" fill="#ffcdd2"/>
<rect x="1170" y="771" width="1" height="8.2" fill="#ffcdd2"/>
<rect x="1178" y="771" width="1" height="7.3" fill="#ffcdd2"/>
<rect x="1187" y="771" width="1" height="7.3" fill="#ff5252"/>
<rect x="1196" y="771" width="1" height="8.2" fill="#ff5252"/>
<rect x="1205" y="771" width="1" height="11.2" fill="#ff5252"/>
<rect x="1213" y="771" width="1" height="16.4" fill="#ff5252"/>
<rect x="1222" y="771" width="1" height="16.9" fill="#ff5252"/>
<rect x="1231" y="771" width="1" height="20.2" fill="#ff5252"/>
</g>
<path d="M10.3 778.8 L13.3 778.4 L16.3 778.1 L19.3 777.9 L22.3 777.6 L25.3 777.5 L28.3 777.4 L31.3 777.3 L34.3 777.2 L37.3 777.2 L40.3 777.3 L43.3 777.4 L46.3 777.6 L49.3 777.9 L52.3 778.1 L55.3 778.3 L58.3 778.5 L61.3 778.7 L64.3 778.8 L67.3 778.7 L70.3 778.5 L73.3 778.2 L76.3 777.9 L79.3 777.5 L82.3 777.0 L85.3 776.4 L88.3 775.7 L91.3 775.1 L94.3 774.4 L97.3 773.9 L100.3 773.7 L103.3 773.8 L106.3 773.9 L109.3 774.1 L112.3 774.3 L115.3 774.5 L118.3 774.5 L121.3 774.6 L124.3 774.6 L127.3 774.6 L130.3 774.6 L133.3 774.7 L136.3 774.8 L139.3 774.9 L142.3 775.1 L145.3 775.3 L148.3 775.6 L151.3 775.8 L154.3 776.0 L157.3 776.2 L160.3 776.4 L163.3 776.7 L166.3 776.9 L169.3 777.0 L172.3 777.1 L175.3 777.3 L178.3 777.4 L181.3 777.5 L184.3 777.6 L187.3 777.7 L190.3 777.8 L193.3 777.8 L196.3 777.8 L199.3 777.8 L202.3 777.8 L205.3 777.8 L208.3 777.8 L211.3 777.8 L214.3 777.8 L217.3 777.7 L220.3 777.6 L223.3 777.4 L226.3 777.2 L229.3 777.1 L232.3 776.9 L235.3 776.8 L238.3 776.6 L241.3 776.5 L244.3 776.4 L247.3 776.3 L250.3 776.3 L253.3 776.4 L256.3 776.5 L259.3 776.7 L262.3 776.9 L265.3 777.0 L268.3 777.2 L271.3 777.3 L274.3 777.5 L277.3 777.7 L280.3 777.8 L283.3 778.0 L286.3 778.2 L289.3 778.4 L292.3 778.6 L295.3 778.7 L298.3 778.7 L301.3 778.7 L304.3 778.7 L307.3 778.7 L310.3 778.7 L313.3 778.7 L316.4 778.6 L319.4 778.5 L322.4 778.3 L325.4 778.1 L328.4 777.9 L331.4 777.7 L334.4 777.6 L337.4 777.5 L340.4 777.3 L343.4 777.2 L346.4 777.1 L349.4 777.0 L352.4 777.0 L355.4 777.0 L358.4 777.1 L361.4 777.1 L364.4 777.2 L367.4 777.3 L370.4 777.5 L373.4 777.6 L376.4 777.8 L379.4 778.0 L382.4 778.3 L385.4 778.5 L388.4 778.7 L391.4 778.9 L394.4 779.0 L397.4 779.2 L400.4 779.3 L403.4 779.5 L406.4 779.7 L409.4 780.0 L412.4 780.4 L415.4 780.8 L418.4 781.2 L421.4 781.5 L424.4 781.8 L427.4 782.1 L430.4 782.4 L433.4 782.6 L436.4 782.8 L439.4 782.9 L442.4 783.0 L445.4 783.1 L448.4 783.2 L451.4 783.2 L454.4 783.3 L457.4 783.3 L460.4 783.3 L463.4 783.1 L466.4 783.0 L469.4 783.0 L472.4 783.1 L475.4 783.3 L478.4 783.6 L481.4 783.8 L484.4 784.2 L487.4 784.5 L490.4 785.1 L493.4 785.7 L496.4 786.5 L499.4 787.2 L502.4 788.0 L505.4 788.8 L508.4 789.8 L511.4 790.8 L514.4 792.1 L517.4 793.5 L520.4 795.0 L523.4 796.5 L526.4 798.0 L529.4 799.5 L532.4 800.7 L535.4 801.9 L538.4 803.1 L541.4 804.3 L544.4 805.4 L547.4 806.3 L550.4 807.3 L553.4 808.0 L556.4 808.6 L559.4 809.1 L562.4 809.5 L565.4 809.4 L568.4 809.1 L571.4 808.6 L574.4 808.1 L577.4 807.5 L580.4 806.9 L583.4 806.2 L586.4 805.5 L589.4 804.7 L592.4 803.8 L595.4 802.7 L598.4 802.0 L601.4 802.0 L604.4 801.0 L607.4 799.9 L610.4 798.9 L613.4 798.0 L616.4 797.0 L619.4 796.1 L622.4 795.1 L625.4 794.2 L628.4 793.4 L631.4 792.5 L634.4 791.7 L637.4 791.0 L640.4 790.4 L643.4 789.7 L646.4 789.1 L649.4 788.4 L652.4 787.8 L655.4 787.3 L658.4 786.8 L661.4 786.4 L664.4 786.0 L667.4 785.6 L670.4 785.1 L673.4 784.5 L676.4 783.8 L679.4 783.1 L682.4 782.3 L685.4 781.5 L688.4 780.8 L691.4 780.0 L694.4 779.2 L697.4 778.5 L700.4 777.7 L703.4 776.9 L706.4 776.1 L709.4 775.5 L712.4 774.8 L715.4 774.0 L718.4 773.2 L721.4 772.5 L724.4 771.8 L727.4 771.1 L730.4 770.5 L733.4 770.0 L736.4 769.6 L739.4 769.2 L742.4 768.8 L745.4 768.4 L748.4 768.0 L751.4 767.6 L754.4 767.1 L757.4 766.7 L760.4 766.5 L763.4 766.3 L766.4 766.1 L769.4 765.9 L772.4 765.7 L775.4 765.5 L778.4 765.4 L781.4 765.4 L784.4 765.3 L787.4 765.0 L790.4 764.7 L793.4 764.4 L796.4 764.1 L799.4 763.9 L802.4 763.6 L805.4 763.4 L808.4 763.2 L811.4 763.0 L814.4 762.7 L817.4 762.5 L820.4 762.5 L823.4 762.5 L826.4 762.5 L829.4 762.5 L832.4 762.8 L835.4 763.0 L838.4 763.2 L841.4 763.4 L844.4 763.6 L847.4 763.9 L850.4 764.1 L853.4 764.4 L856.4 764.7 L859.4 765.0 L862.4 765.3 L865.4 765.5 L868.4 765.8 L871.4 766.0 L874.4 766.2 L877.4 766.5 L880.4 766.7 L883.4 766.9 L886.4 767.2 L889.4 767.5 L892.4 768.0 L895.4 768.6 L898.4 768.8 L901.4 768.8 L904.4 768.7 L907.4 768.7 L910.4 768.3 L913.4 767.8 L916.4 767.4 L919.4 767.0 L922.4 766.6 L925.4 766.2 L928.5 765.8 L931.5 765.3 L934.5 764.8 L937.5 764.1 L940.5 763.3 L943.5 762.4 L946.5 761.4 L949.5 760.4 L952.5 759.3 L955.5 758.2 L958.5 757.1 L961.5 755.9 L964.5 754.6 L967.5 753.2 L970.5 752.0 L973.5 750.7 L976.5 749.5 L979.5 748.3 L982.5 747.2 L985.5 746.2 L988.5 745.3 L991.5 744.5 L994.5 743.8 L997.5 743.3 L1000.5 742.8 L1003.5 742.5 L1006.5 742.4 L1009.5 742.2 L1012.5 742.2 L1015.5 742.3 L1018.5 742.4 L1021.5 742.5 L1024.5 742.7 L1027.5 742.8 L1030.5 742.8 L1033.5 742.7 L1036.5 742.5 L1039.5 742.5 L1042.5 742.6 L1045.5 742.7 L1048.5 742.8 L1051.5 742.9 L1054.5 743.0 L1057.5 742.9 L1060.5 742.7 L1063.5 742.3 L1066.5 742.0 L1069.5 741.7 L1072.5 741.3 L1075.5 741.0 L1078.5 740.7 L1081.5 740.4 L1084.5 740.1 L1087.5 739.7 L1090.5 739.5 L1093.5 739.5 L1096.5 739.5 L1099.5 739.6 L1102.5 739.8 L1105.5 740.3 L1108.5 740.8 L1111.5 741.4 L1114.5 742.2 L1117.5 743.0 L1120.5 743.8 L1123.5 744.6 L1126.5 745.4 L1129.5 746.2 L1132.5 747.0 L1135.5 747.8 L1138.5 748.6 L1141.5 749.5 L1144.5 750.2 L1147.5 750.8 L1150.5 751.4 L1153.5 752.0 L1156.5 752.6 L1159.5 753.3 L1162.5 753.9 L1165.5 754.5 L1168.5 755.0 L1171.5 755.6 L1174.5 756.1 L1177.5 756.6 L1180.5 757.1 L1183.5 757.6 L1186.5 758.1 L1189.5 758.6 L1192.5 759.1 L1195.5 759.7 L1198.5 760.4 L1201.5 761.2 L1204.5 762.2 L1207.5 763.2 L1210.5 764.5 L1213.5 765.8 L1216.5 767.2 L1219.5 768.8 L1222.5 770.3 L1225.5 771.8 L1228.5 773.2 L1231.5 774.7" fill="none" stroke="#ff6d00" stroke-width="1.05" stroke-linejoin="round"/>
<path d="M10.3 777.5 L37.5 775.3 L46.3 777.0 L55.1 782.5 L63.9 781.2 L72.6 777.2 L81.4 771.7 L90.2 767.2 L99.0 768.8 L107.8 773.3 L116.5 776.2 L125.3 775.0 L134.1 775.0 L142.9 776.3 L151.7 777.5 L160.5 778.3 L178.0 778.0 L195.6 778.0 L204.4 778.7 L213.1 778.0 L230.7 776.2 L248.3 775.3 L257.0 776.3 L274.6 779.5 L283.4 780.0 L296.0 779.2 L312.7 778.7 L327.3 777.2 L336.1 775.3 L353.5 775.3 L371.3 778.0 L379.3 779.7 L397.3 781.7 L406.3 782.8 L423.0 786.2 L432.3 785.8 L441.0 784.2 L458.5 783.3 L467.3 783.0 L476.0 785.8 L484.8 787.5 L493.8 792.5 L502.3 797.0 L511.3 802.0 L519.8 809.2 L528.8 816.2 L536.8 817.5 L545.7 819.2 L554.7 819.2 L563.7 814.7 L573.0 804.2 L581.3 799.5 L590.2 796.3 L599.0 791.3 L599.5 791.3 L608.5 787.5 L617.5 785.0 L625.5 782.5 L634.5 780.8 L643.5 782.2 L652.5 781.3 L660.5 781.3 L669.5 780.0 L678.5 778.0 L687.5 772.5 L696.5 770.0 L704.5 767.5 L713.5 765.8 L722.5 763.0 L731.5 763.0 L739.5 764.5 L748.5 763.7 L757.5 763.0 L766.5 763.0 L775.5 763.7 L783.5 763.3 L792.5 761.2 L801.5 760.5 L810.5 760.3 L818.5 760.8 L827.5 763.3 L836.5 765.0 L845.5 766.2 L854.5 767.8 L862.5 769.2 L871.5 768.8 L880.5 769.7 L889.5 771.7 L897.5 772.5 L906.5 769.7 L915.5 761.3 L924.5 763.7 L933.5 759.2 L941.5 755.5 L950.5 747.5 L959.5 743.8 L968.5 739.2 L976.5 735.3 L985.5 733.3 L994.5 735.0 L1003.5 737.5 L1012.5 740.8 L1020.5 743.7 L1029.5 744.2 L1038.5 742.5 L1047.5 743.0 L1055.5 742.5 L1064.5 739.2 L1073.5 738.0 L1082.5 736.2 L1091.5 737.2 L1099.5 739.4 L1108.5 744.5 L1117.5 749.9 L1126.5 754.7 L1134.5 756.2 L1143.5 759.5 L1152.5 760.5 L1161.5 762.5 L1170.5 762.5 L1178.5 762.9 L1187.5 764.5 L1196.5 766.7 L1205.5 773.3 L1213.5 781.7 L1222.5 787.5 L1231.5 793.3" fill="none" stroke="#2962ff" stroke-width="1.05" stroke-linejoin="round"/>
<path d="M1222.67 588.88 A9.5 9.5 0 1 1 1224.42 597.48" fill="none" stroke="#fff" stroke-width="4.5" stroke-linecap="round"/>
<path d="M1220.94 589.9 Q1221.9 594.0 1226.0 594.97 Q1221.9 595.95 1220.94 600.05 Q1220.0 595.95 1215.9 594.97 Q1220.0 594.0 1220.94 589.9Z" fill="#fff" stroke="#fff" stroke-width="3" stroke-linejoin="round"/>
<path d="M1222.67 588.88 A9.5 9.5 0 1 1 1224.42 597.48" fill="none" stroke="#9c27b0" stroke-width="1.5"/>
<path d="M1235.0 585.9 L1226.9 591.8 L1231.0 591.95 L1227.9 597.2 L1236.1 591.0 L1232.1 590.7Z" fill="#9c27b0"/>
<path d="M1220.94 589.9 Q1221.9 594.0 1226.0 594.97 Q1221.9 595.95 1220.94 600.05 Q1220.0 595.95 1215.9 594.97 Q1220.0 594.0 1220.94 589.9Z" fill="#7c4dff"/>
<g shape-rendering="crispEdges">
<rect x="1751" y="28" width="1" height="825" fill="#4a4a4a"/>
<rect x="10" y="825" width="1815" height="1" fill="#4a4a4a"/>
</g>
<text x="10.2" y="18.7" font-size="12.3" fill="#131722" text-anchor="start" font-weight="normal" textLength="66.5" lengthAdjust="spacingAndGlyphs">aayushjindal</text>
<text x="81.1" y="18.7" font-size="12.3" fill="#131722" text-anchor="start" font-weight="normal" textLength="41.0" lengthAdjust="spacingAndGlyphs">created</text>
<text x="126.4" y="18.7" font-size="12.3" fill="#131722" text-anchor="start" font-weight="normal" textLength="22.9" lengthAdjust="spacingAndGlyphs">with</text>
<text x="153.7" y="18.7" font-size="12.3" fill="#131722" text-anchor="start" font-weight="normal" textLength="93.7" lengthAdjust="spacingAndGlyphs">TradingView.com,</text>
<text x="252.4" y="18.7" font-size="12.3" fill="#131722" text-anchor="start" font-weight="normal" textLength="16.8" lengthAdjust="spacingAndGlyphs">Jan</text>
<text x="274.2" y="18.7" font-size="12.3" fill="#131722" text-anchor="start" font-weight="normal" textLength="15.7" lengthAdjust="spacingAndGlyphs">29,</text>
<text x="295.4" y="18.7" font-size="12.3" fill="#131722" text-anchor="start" font-weight="normal" textLength="23.9" lengthAdjust="spacingAndGlyphs">2026</text>
<text x="324.1" y="18.7" font-size="12.3" fill="#131722" text-anchor="start" font-weight="normal" textLength="27.9" lengthAdjust="spacingAndGlyphs">04:19</text>
<text x="357.5" y="18.7" font-size="12.3" fill="#131722" text-anchor="start" font-weight="normal" textLength="20.3" lengthAdjust="spacingAndGlyphs">UTC</text>
<text x="18.5" y="45.6" font-size="12" fill="#555" text-anchor="start" font-weight="normal" textLength="47.8" lengthAdjust="spacingAndGlyphs">Dogecoin</text>
<text x="71.4" y="45.6" font-size="12" fill="#555" text-anchor="start" font-weight="normal" textLength="3.8" lengthAdjust="spacingAndGlyphs">/</text>
<text x="80.7" y="45.6" font-size="12" fill="#555" text-anchor="start" font-weight="normal" textLength="9.8" lengthAdjust="spacingAndGlyphs">U.</text>
<text x="95.9" y="45.6" font-size="12" fill="#555" text-anchor="start" font-weight="normal" textLength="9.3" lengthAdjust="spacingAndGlyphs">S.</text>
<text x="110.3" y="45.6" font-size="12" fill="#555" text-anchor="start" font-weight="normal" textLength="31.4" lengthAdjust="spacingAndGlyphs">Dollar</text>
<text x="153.7" y="45.6" font-size="12" fill="#555" text-anchor="start" font-weight="normal" textLength="12.0" lengthAdjust="spacingAndGlyphs">1h</text>
<text x="178.2" y="45.6" font-size="12" fill="#555" text-anchor="start" font-weight="normal" textLength="36.0" lengthAdjust="spacingAndGlyphs">Kraken</text>
<circle cx="147.7" cy="41.6" r="1" fill="#555"/><circle cx="172" cy="41.6" r="1" fill="#555"/>
<text x="222.2" y="45.6" font-size="12" fill="#555" text-anchor="start" font-weight="normal">O</text>
<text x="231" y="45.6" font-size="12" fill="#6b1d1d" text-anchor="start" font-weight="normal" textLength="53.7" lengthAdjust="spacingAndGlyphs">0.1219904</text>
<text x="292.7" y="45.6" font-size="12" fill="#555" text-anchor="start" font-weight="normal">H</text>
<text x="301" y="45.6" font-size="12" fill="#6b1d1d" text-anchor="start" font-weight="normal" textLength="53.7" lengthAdjust="spacingAndGlyphs">0.1220595</text>
<text x="362.5" y="45.6" font-size="12" fill="#555" text-anchor="start" font-weight="normal">L</text>
<text x="368.8" y="45.6" font-size="12" fill="#6b1d1d" text-anchor="start" font-weight="normal" textLength="53.7" lengthAdjust="spacingAndGlyphs">0.1213230</text>
<text x="430" y="45.6" font-size="12" fill="#555" text-anchor="start" font-weight="normal">C</text>
<text x="438.2" y="45.6" font-size="12" fill="#6b1d1d" text-anchor="start" font-weight="normal" textLength="53.7" lengthAdjust="spacingAndGlyphs">0.1213230</text>
<text x="499.8" y="45.6" font-size="12" fill="#6b1d1d" text-anchor="start" font-weight="normal" textLength="108.7" lengthAdjust="spacingAndGlyphs">−0.0007939 (−0.65%)</text>
<clipPath id="cpl"><rect x="1752" y="28" width="73" height="576"/></clipPath><g clip-path="url(#cpl)">
<text x="1760" y="96.3" font-size="11" fill="#333" text-anchor="start" font-weight="normal" textLength="50.4" lengthAdjust="spacingAndGlyphs">0.1270000</text>
<text x="1760" y="147.3" font-size="11" fill="#333" text-anchor="start" font-weight="normal" textLength="50.4" lengthAdjust="spacingAndGlyphs">0.1260000</text>
<text x="1760" y="197.3" font-size="11" fill="#333" text-anchor="start" font-weight="normal" textLength="50.4" lengthAdjust="spacingAndGlyphs">0.1250000</text>
<text x="1760" y="248.3" font-size="11" fill="#333" text-anchor="start" font-weight="normal" textLength="50.4" lengthAdjust="spacingAndGlyphs">0.1240000</text>
<text x="1760" y="299.3" font-size="11" fill="#333" text-anchor="start" font-weight="normal" textLength="50.4" lengthAdjust="spacingAndGlyphs">0.1230000</text>
<text x="1760" y="350.3" font-size="11" fill="#333" text-anchor="start" font-weight="normal" textLength="50.4" lengthAdjust="spacingAndGlyphs">0.1220000</text>
<text x="1760" y="401.3" font-size="11" fill="#333" text-anchor="start" font-weight="normal" textLength="50.4" lengthAdjust="spacingAndGlyphs">0.1210000</text>
<text x="1760" y="452.3" font-size="11" fill="#333" text-anchor="start" font-weight="normal" textLength="50.4" lengthAdjust="spacingAndGlyphs">0.1200000</text>
<text x="1760" y="503.3" font-size="11" fill="#333" text-anchor="start" font-weight="normal" textLength="50.4" lengthAdjust="spacingAndGlyphs">0.1190000</text>
<text x="1760" y="554.3" font-size="11" fill="#333" text-anchor="start" font-weight="normal" textLength="50.4" lengthAdjust="spacingAndGlyphs">0.1180000</text>
<text x="1760" y="605.3" font-size="11" fill="#333" text-anchor="start" font-weight="normal" textLength="50.4" lengthAdjust="spacingAndGlyphs">0.1170000</text>
</g>
<text x="1760" y="635.3" font-size="11" fill="#333" text-anchor="start" font-weight="normal" textLength="27" lengthAdjust="spacingAndGlyphs">60.00</text>
<text x="1760" y="676.3" font-size="11" fill="#333" text-anchor="start" font-weight="normal" textLength="27" lengthAdjust="spacingAndGlyphs">40.00</text>
<text x="1760" y="716.3" font-size="11" fill="#333" text-anchor="start" font-weight="normal" textLength="27" lengthAdjust="spacingAndGlyphs">20.00</text>
<text x="1760" y="737.3" font-size="11" fill="#333" text-anchor="start" font-weight="normal" textLength="50.4" lengthAdjust="spacingAndGlyphs">0.0010000</text>
<text x="1760" y="775.3" font-size="11" fill="#333" text-anchor="start" font-weight="normal" textLength="50.4" lengthAdjust="spacingAndGlyphs">0.0000000</text>
<text x="1760" y="813.3" font-size="11" fill="#333" text-anchor="start" font-weight="normal" textLength="56.5" lengthAdjust="spacingAndGlyphs">−0.0010000</text>
<rect x="1752" y="28" width="72" height="33" fill="#fff"/>
<rect x="1755" y="31.5" width="65.5" height="26" rx="4.5" fill="#fff" stroke="#ebebeb" stroke-width="1.2"/>
<text x="1764.4" y="48.5" font-size="11.5" fill="#131722" text-anchor="start" font-weight="normal" textLength="21" lengthAdjust="spacingAndGlyphs">USD</text>
<path d="M1752 247.0 H1812.5 Q1815 247.0 1815 249.5 V261.5 Q1815 264.0 1812.5 264.0 H1752Z" fill="#ff0000"/>
<path d="M1752 61 H1815 V72.5 Q1815 75 1812.5 75 H1752Z" fill="#ff0000"/>
<text x="1760" y="70.5" font-size="11" fill="#fff" text-anchor="start" font-weight="bold" textLength="50.6" lengthAdjust="spacingAndGlyphs">0.1274944</text>
<text x="1760" y="259.7" font-size="11" fill="#fff" text-anchor="start" font-weight="bold" textLength="50.6" lengthAdjust="spacingAndGlyphs">0.1237926</text>
<path d="M1752 373 H1812.5 Q1815 373 1815 375.5 V400.5 Q1815 403 1812.5 403 H1752Z" fill="#ff0000"/>
<text x="1760" y="386" font-size="11" fill="#fff" text-anchor="start" font-weight="bold" textLength="50.6" lengthAdjust="spacingAndGlyphs">0.1213230</text>
<text x="1760" y="398.8" font-size="11" fill="#ffd0d0" text-anchor="start" font-weight="normal" textLength="28" lengthAdjust="spacingAndGlyphs">40:24</text>
<path d="M1752 441.9 H1812.5 Q1815 441.9 1815 444.4 V456.4 Q1815 458.9 1812.5 458.9 H1752Z" fill="#4caf50"/>
<text x="1760" y="454.59999999999997" font-size="11" fill="#fff" text-anchor="start" font-weight="bold" textLength="50.6" lengthAdjust="spacingAndGlyphs">0.1199578</text>
<path d="M1752 482.2 H1812.5 Q1815 482.2 1815 484.7 V496.7 Q1815 499.2 1812.5 499.2 H1752Z" fill="#4caf50"/>
<text x="1760" y="494.9" font-size="11" fill="#fff" text-anchor="start" font-weight="bold" textLength="50.6" lengthAdjust="spacingAndGlyphs">0.1191762</text>
<path d="M1752 562.8 H1812.5 Q1815 562.8 1815 565.3 V577.3 Q1815 579.8 1812.5 579.8 H1752Z" fill="#4caf50"/>
<text x="1760" y="575.5" font-size="11" fill="#fff" text-anchor="start" font-weight="bold" textLength="50.6" lengthAdjust="spacingAndGlyphs">0.1175835</text>
<text x="1669.5" y="56.8" font-size="11.5" fill="#8a8a8a" text-anchor="start" font-weight="normal" textLength="73" lengthAdjust="spacingAndGlyphs">0 (0.1275197)</text>
<text x="1645.9" y="177" font-size="11.5" fill="#d32f2f" text-anchor="start" font-weight="normal" textLength="96.6" lengthAdjust="spacingAndGlyphs">0.236 (0.1251605)</text>
<text x="1659.0" y="311.8" font-size="11.5" fill="#5b1a45" text-anchor="start" font-weight="normal" textLength="83.5" lengthAdjust="spacingAndGlyphs">0.5 (0.1225215)</text>
<text x="1645.9" y="371.9" font-size="11.5" fill="#22c79a" text-anchor="start" font-weight="normal" textLength="96.6" lengthAdjust="spacingAndGlyphs">0.618 (0.1213419)</text>
<text x="1645.9" y="446.2" font-size="11.5" fill="#c2182b" text-anchor="start" font-weight="normal" textLength="96.6" lengthAdjust="spacingAndGlyphs">0.764 (0.1198825)</text>
<text x="1645.9" y="481.2" font-size="11.5" fill="#d32f2f" text-anchor="start" font-weight="normal" textLength="96.6" lengthAdjust="spacingAndGlyphs">0.832 (0.1192027)</text>
<text x="1669.5" y="565.7" font-size="11.5" fill="#4fa8e0" text-anchor="start" font-weight="normal" textLength="73" lengthAdjust="spacingAndGlyphs">1 (0.1175233)</text>
<text x="24.15" y="842" font-size="11" fill="#333" text-anchor="start" font-weight="normal" textLength="26.7" lengthAdjust="spacingAndGlyphs">12:00</text>
<text x="77.15" y="842" font-size="11" fill="#333" text-anchor="start" font-weight="normal" textLength="26.7" lengthAdjust="spacingAndGlyphs">18:00</text>
<text x="136.85" y="842" font-size="11" fill="#333" text-anchor="start" font-weight="normal" textLength="11.3" lengthAdjust="spacingAndGlyphs">24</text>
<text x="182.15" y="842" font-size="11" fill="#333" text-anchor="start" font-weight="normal" textLength="26.7" lengthAdjust="spacingAndGlyphs">06:00</text>
<text x="235.15" y="842" font-size="11" fill="#333" text-anchor="start" font-weight="normal" textLength="26.7" lengthAdjust="spacingAndGlyphs">12:00</text>
<text x="287.15" y="842" font-size="11" fill="#333" text-anchor="start" font-weight="normal" textLength="26.7" lengthAdjust="spacingAndGlyphs">18:00</text>
<text x="347.85" y="842" font-size="11" fill="#333" text-anchor="start" font-weight="normal" textLength="11.3" lengthAdjust="spacingAndGlyphs">25</text>
<text x="393.15" y="842" font-size="11" fill="#333" text-anchor="start" font-weight="normal" textLength="26.7" lengthAdjust="spacingAndGlyphs">06:00</text>
<text x="445.15" y="842" font-size="11" fill="#333" text-anchor="start" font-weight="normal" textLength="26.7" lengthAdjust="spacingAndGlyphs">12:00</text>
<text x="498.15" y="842" font-size="11" fill="#333" text-anchor="start" font-weight="normal" textLength="26.7" lengthAdjust="spacingAndGlyphs">18:00</text>
<text x="558.85" y="842" font-size="11" fill="#333" text-anchor="start" font-weight="normal" textLength="11.3" lengthAdjust="spacingAndGlyphs">26</text>
<text x="604.15" y="842" font-size="11" fill="#333" text-anchor="start" font-weight="normal" textLength="26.7" lengthAdjust="spacingAndGlyphs">06:00</text>
<text x="656.15" y="842" font-size="11" fill="#333" text-anchor="start" font-weight="normal" textLength="26.7" lengthAdjust="spacingAndGlyphs">12:00</text>
<text x="709.15" y="842" font-size="11" fill="#333" text-anchor="start" font-weight="normal" textLength="26.7" lengthAdjust="spacingAndGlyphs">18:00</text>
<text x="769.85" y="842" font-size="11" fill="#333" text-anchor="start" font-weight="normal" textLength="11.3" lengthAdjust="spacingAndGlyphs">27</text>
<text x="814.15" y="842" font-size="11" fill="#333" text-anchor="start" font-weight="normal" textLength="26.7" lengthAdjust="spacingAndGlyphs">06:00</text>
<text x="867.15" y="842" font-size="11" fill="#333" text-anchor="start" font-weight="normal" textLength="26.7" lengthAdjust="spacingAndGlyphs">12:00</text>
<text x="920.15" y="842" font-size="11" fill="#333" text-anchor="start" font-weight="normal" textLength="26.7" lengthAdjust="spacingAndGlyphs">18:00</text>
<text x="979.85" y="842" font-size="11" fill="#333" text-anchor="start" font-weight="normal" textLength="11.3" lengthAdjust="spacingAndGlyphs">28</text>
<text x="1025.15" y="842" font-size="11" fill="#333" text-anchor="start" font-weight="normal" textLength="26.7" lengthAdjust="spacingAndGlyphs">06:00</text>
<text x="1078.15" y="842" font-size="11" fill="#333" text-anchor="start" font-weight="normal" textLength="26.7" lengthAdjust="spacingAndGlyphs">12:00</text>
<text x="1130.15" y="842" font-size="11" fill="#333" text-anchor="start" font-weight="normal" textLength="26.7" lengthAdjust="spacingAndGlyphs">18:00</text>
<text x="1190.85" y="842" font-size="11" fill="#333" text-anchor="start" font-weight="normal" textLength="11.3" lengthAdjust="spacingAndGlyphs">29</text>
<text x="1236.15" y="842" font-size="11" fill="#333" text-anchor="start" font-weight="normal" textLength="26.7" lengthAdjust="spacingAndGlyphs">06:00</text>
<text x="1288.15" y="842" font-size="11" fill="#333" text-anchor="start" font-weight="normal" textLength="26.7" lengthAdjust="spacingAndGlyphs">12:00</text>
<text x="1341.15" y="842" font-size="11" fill="#333" text-anchor="start" font-weight="normal" textLength="26.7" lengthAdjust="spacingAndGlyphs">18:00</text>
<text x="1401.85" y="842" font-size="11" fill="#333" text-anchor="start" font-weight="normal" textLength="11.3" lengthAdjust="spacingAndGlyphs">30</text>
<text x="1446.15" y="842" font-size="11" fill="#333" text-anchor="start" font-weight="normal" textLength="26.7" lengthAdjust="spacingAndGlyphs">06:00</text>
<text x="1499.15" y="842" font-size="11" fill="#333" text-anchor="start" font-weight="normal" textLength="26.7" lengthAdjust="spacingAndGlyphs">12:00</text>
<text x="1552.15" y="842" font-size="11" fill="#333" text-anchor="start" font-weight="normal" textLength="26.7" lengthAdjust="spacingAndGlyphs">18:00</text>
<text x="1611.85" y="842" font-size="11" fill="#333" text-anchor="start" font-weight="normal" textLength="11.3" lengthAdjust="spacingAndGlyphs">31</text>
<text x="1657.15" y="842" font-size="11" fill="#333" text-anchor="start" font-weight="normal" textLength="26.7" lengthAdjust="spacingAndGlyphs">06:00</text>
<text x="1710.15" y="842" font-size="11" fill="#333" text-anchor="start" font-weight="normal" textLength="26.7" lengthAdjust="spacingAndGlyphs">12:00</text>
<g transform="translate(12,871.67) scale(0.8333)" fill="#131313"><path d="M14 22H7V11H0V4h14v18ZM28 22h-8l7.5-18h8L28 22Z"/><circle cx="20" cy="8" r="4"/></g>
<text x="48.8" y="890" font-size="20.5" fill="#131313" text-anchor="start" font-weight="bold" textLength="121" lengthAdjust="spacingAndGlyphs">TradingView</text>
</svg>
</body></html>
